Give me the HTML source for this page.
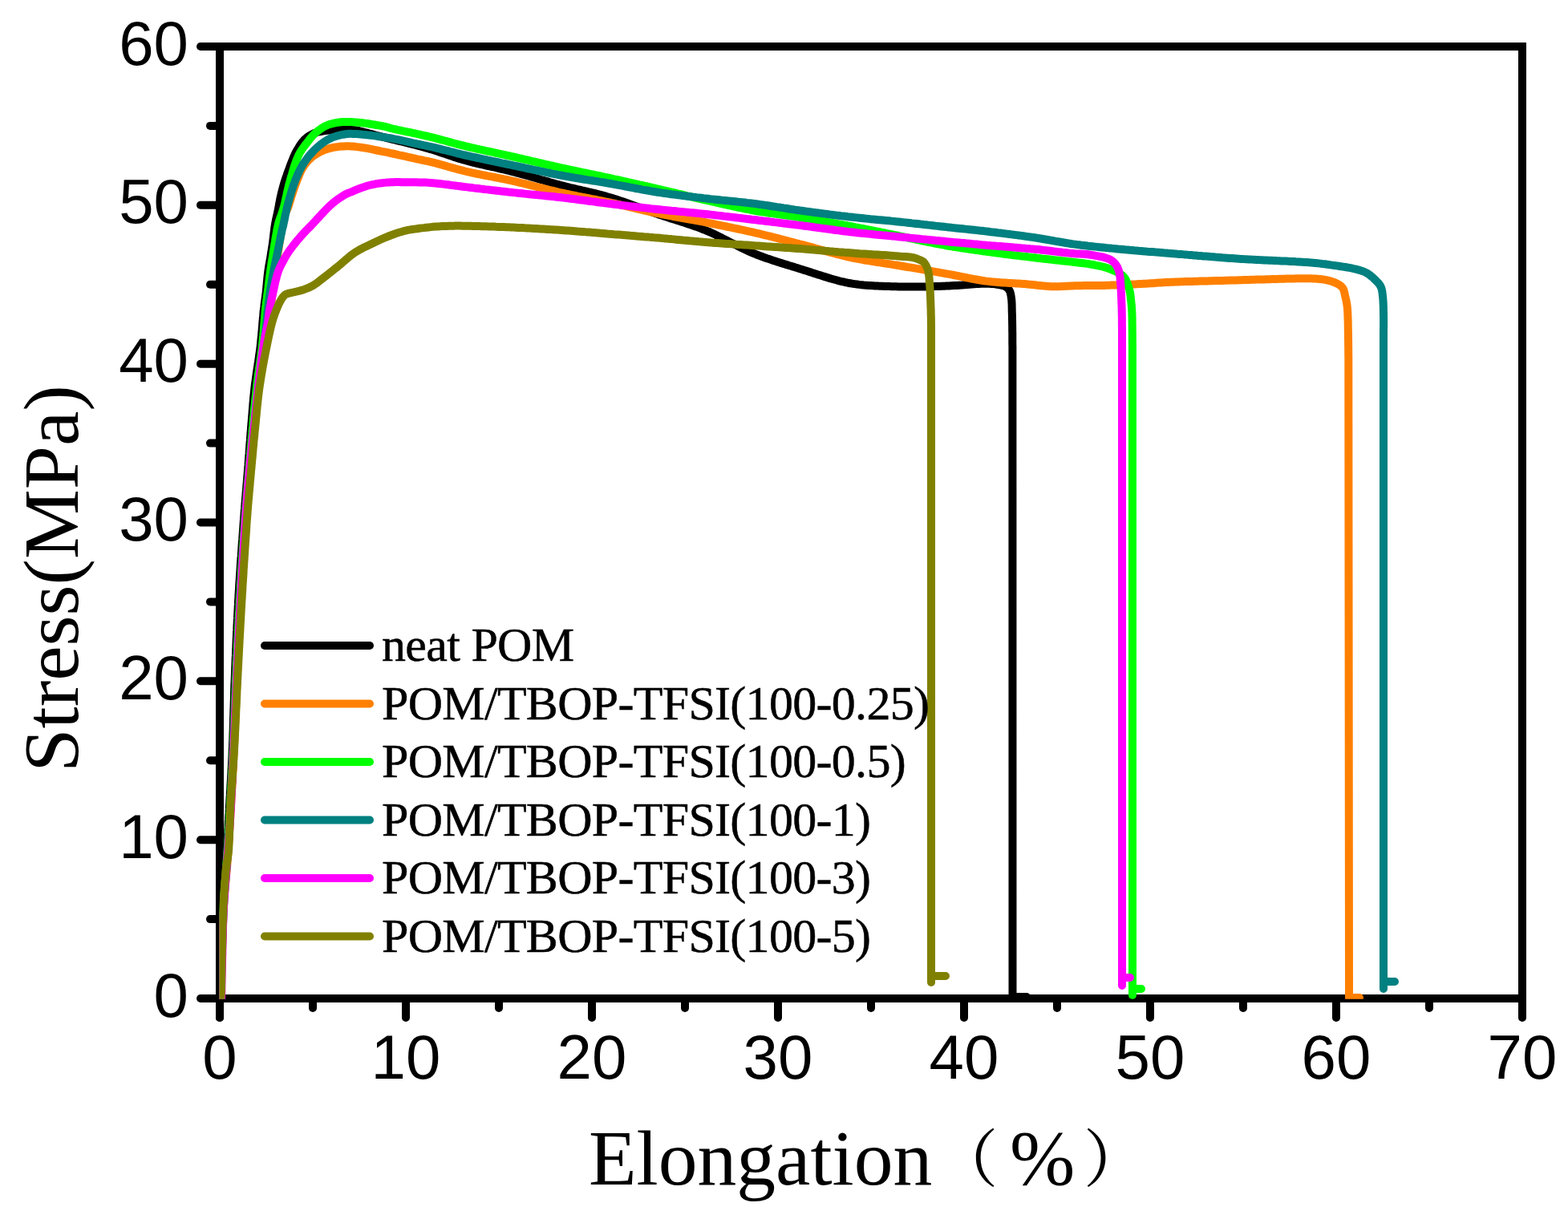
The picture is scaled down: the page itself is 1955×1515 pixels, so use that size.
<!DOCTYPE html>
<html><head><meta charset="utf-8"><title>Stress vs Elongation</title>
<style>
html,body{margin:0;padding:0;background:#fff;}
body{width:1955px;height:1515px;overflow:hidden;}
svg{display:block;}
.tl{font-family:"Liberation Sans",Arial,sans-serif;font-size:78px;fill:#000;}
.at{font-family:"Liberation Serif","Times New Roman","Noto Serif CJK SC",serif;font-size:97.6px;fill:#000;}
.lg{font-family:"Liberation Serif","Times New Roman",serif;font-size:60px;fill:#000;letter-spacing:-0.7px;stroke:#000;stroke-width:0.5px;}
.at .cj{font-family:"Noto Serif CJK SC","Noto Serif CJK JP",serif;font-size:78px;font-weight:500;}
</style></head>
<body>
<svg width="1955" height="1515" viewBox="0 0 1955 1515">
<rect width="1955" height="1515" fill="#fff"/>
<g stroke="#000" stroke-width="10" stroke-linecap="round" fill="none">
<line x1="274.0" y1="1245" x2="274.0" y2="1269"/>
<line x1="390.0" y1="1245" x2="390.0" y2="1257"/>
<line x1="506.0" y1="1245" x2="506.0" y2="1269"/>
<line x1="622.0" y1="1245" x2="622.0" y2="1257"/>
<line x1="738.0" y1="1245" x2="738.0" y2="1269"/>
<line x1="854.0" y1="1245" x2="854.0" y2="1257"/>
<line x1="970.0" y1="1245" x2="970.0" y2="1269"/>
<line x1="1086.0" y1="1245" x2="1086.0" y2="1257"/>
<line x1="1202.0" y1="1245" x2="1202.0" y2="1269"/>
<line x1="1318.0" y1="1245" x2="1318.0" y2="1257"/>
<line x1="1434.0" y1="1245" x2="1434.0" y2="1269"/>
<line x1="1550.0" y1="1245" x2="1550.0" y2="1257"/>
<line x1="1666.0" y1="1245" x2="1666.0" y2="1269"/>
<line x1="1782.0" y1="1245" x2="1782.0" y2="1257"/>
<line x1="1898.0" y1="1245" x2="1898.0" y2="1269"/>
<line x1="274" y1="1245.0" x2="250" y2="1245.0"/>
<line x1="274" y1="1146.1" x2="262" y2="1146.1"/>
<line x1="274" y1="1047.2" x2="250" y2="1047.2"/>
<line x1="274" y1="948.3" x2="262" y2="948.3"/>
<line x1="274" y1="849.3" x2="250" y2="849.3"/>
<line x1="274" y1="750.4" x2="262" y2="750.4"/>
<line x1="274" y1="651.5" x2="250" y2="651.5"/>
<line x1="274" y1="552.6" x2="262" y2="552.6"/>
<line x1="274" y1="453.7" x2="250" y2="453.7"/>
<line x1="274" y1="354.8" x2="262" y2="354.8"/>
<line x1="274" y1="255.8" x2="250" y2="255.8"/>
<line x1="274" y1="156.9" x2="262" y2="156.9"/>
<line x1="274" y1="58.0" x2="250" y2="58.0"/>
</g>
<path d="M274 1245 L274 58 L1898 58 L1898 1245 Z" stroke="#000" stroke-width="10" fill="none" stroke-linejoin="miter"/>
<line x1="274" y1="1245" x2="274" y2="1269" stroke="#000" stroke-width="10" stroke-linecap="round"/>
<clipPath id="pc"><rect x="273.5" y="58" width="1624.5" height="1187.8"/></clipPath>
<g clip-path="url(#pc)" fill="none" stroke-width="10" stroke-linejoin="round" stroke-linecap="round">
<path d="M275.0 1250.0 L275.1 1247.1 L275.1 1244.2 L275.2 1241.3 L275.2 1238.4 L275.3 1235.6 L275.3 1232.7 L275.4 1229.8 L275.4 1227.0 L275.5 1224.1 L275.5 1221.2 L275.6 1218.3 L275.7 1215.3 L275.7 1212.3 L275.8 1209.3 L275.9 1206.3 L275.9 1203.2 L276.0 1200.0 L276.1 1197.3 L276.1 1194.6 L276.2 1191.8 L276.3 1188.9 L276.3 1186.0 L276.4 1183.1 L276.4 1180.2 L276.5 1177.2 L276.6 1174.2 L276.6 1171.2 L276.7 1168.2 L276.8 1165.2 L276.9 1162.2 L276.9 1159.2 L277.0 1156.1 L277.1 1153.1 L277.2 1150.1 L277.3 1147.2 L277.4 1144.2 L277.5 1141.3 L277.6 1138.4 L277.7 1135.6 L277.9 1132.8 L278.0 1130.0 L278.2 1126.9 L278.3 1123.9 L278.5 1120.9 L278.7 1118.0 L278.9 1115.0 L279.1 1112.1 L279.4 1109.2 L279.6 1106.3 L279.8 1103.4 L280.0 1100.6 L280.3 1097.7 L280.5 1094.9 L280.7 1092.1 L281.0 1089.2 L281.2 1086.4 L281.4 1083.6 L281.6 1080.7 L281.8 1077.9 L282.0 1075.0 L282.2 1072.0 L282.4 1069.1 L282.5 1066.2 L282.7 1063.4 L282.9 1060.5 L283.0 1057.7 L283.2 1054.9 L283.4 1052.0 L283.5 1049.2 L283.7 1046.3 L283.8 1043.4 L284.0 1040.5 L284.2 1037.5 L284.3 1034.5 L284.5 1031.5 L284.6 1028.4 L284.8 1025.2 L285.0 1022.0 L285.1 1019.4 L285.3 1016.7 L285.5 1014.0 L285.6 1011.3 L285.8 1008.5 L285.9 1005.8 L286.1 1003.0 L286.3 1000.1 L286.4 997.3 L286.6 994.4 L286.8 991.5 L286.9 988.6 L287.1 985.6 L287.3 982.7 L287.4 979.7 L287.6 976.7 L287.8 973.7 L288.0 970.7 L288.1 967.6 L288.3 964.6 L288.4 961.5 L288.6 958.5 L288.8 955.4 L288.9 952.3 L289.1 949.3 L289.2 946.2 L289.4 943.1 L289.5 940.0 L289.6 937.2 L289.7 934.5 L289.9 931.7 L290.0 928.8 L290.1 926.0 L290.2 923.2 L290.3 920.3 L290.4 917.4 L290.5 914.5 L290.6 911.6 L290.7 908.7 L290.8 905.8 L290.9 902.9 L291.0 899.9 L291.0 897.0 L291.1 894.0 L291.2 891.1 L291.3 888.1 L291.4 885.2 L291.5 882.2 L291.6 879.2 L291.7 876.3 L291.8 873.3 L291.9 870.3 L292.0 867.4 L292.0 864.4 L292.1 861.4 L292.2 858.5 L292.3 855.5 L292.4 852.6 L292.6 849.7 L292.7 846.7 L292.8 843.8 L292.9 840.9 L293.0 838.0 L293.1 835.1 L293.2 832.1 L293.4 829.2 L293.5 826.3 L293.6 823.4 L293.7 820.4 L293.9 817.5 L294.0 814.6 L294.1 811.7 L294.2 808.8 L294.4 805.9 L294.5 802.9 L294.6 800.0 L294.7 797.1 L294.9 794.2 L295.0 791.3 L295.1 788.4 L295.3 785.5 L295.4 782.6 L295.5 779.7 L295.7 776.8 L295.8 773.9 L296.0 771.0 L296.1 768.1 L296.3 765.2 L296.4 762.3 L296.6 759.4 L296.7 756.4 L296.9 753.5 L297.0 750.6 L297.2 747.7 L297.4 744.8 L297.5 741.9 L297.7 739.0 L297.9 736.1 L298.1 733.1 L298.2 730.2 L298.4 727.2 L298.6 724.2 L298.8 721.1 L299.0 718.1 L299.2 715.1 L299.4 712.0 L299.6 709.0 L299.8 705.9 L300.0 702.9 L300.2 699.8 L300.4 696.7 L300.7 693.7 L300.9 690.7 L301.1 687.6 L301.3 684.6 L301.5 681.6 L301.7 678.6 L301.9 675.7 L302.2 672.7 L302.4 669.8 L302.6 666.9 L302.8 664.1 L303.0 661.2 L303.2 658.4 L303.4 655.7 L303.6 653.0 L303.8 650.3 L304.0 647.6 L304.2 645.0 L304.4 642.5 L304.6 640.0 L304.8 636.8 L305.1 633.6 L305.3 630.6 L305.6 627.5 L305.8 624.6 L306.0 621.7 L306.3 618.9 L306.5 616.1 L306.7 613.3 L307.0 610.6 L307.2 607.8 L307.4 605.1 L307.7 602.4 L307.9 599.7 L308.1 597.0 L308.3 594.3 L308.6 591.6 L308.8 588.8 L309.0 586.0 L309.2 583.1 L309.5 580.2 L309.7 577.3 L309.9 574.4 L310.1 571.5 L310.3 568.6 L310.6 565.7 L310.8 562.8 L311.0 559.9 L311.2 557.0 L311.4 554.1 L311.6 551.3 L311.9 548.4 L312.1 545.5 L312.3 542.6 L312.5 539.7 L312.8 536.9 L313.0 534.0 L313.2 531.2 L313.5 528.3 L313.7 525.5 L313.9 522.6 L314.1 519.8 L314.4 517.0 L314.6 514.1 L314.8 511.3 L315.1 508.5 L315.3 505.6 L315.5 502.8 L315.8 500.0 L316.0 497.2 L316.3 494.3 L316.6 491.5 L316.9 488.7 L317.2 485.8 L317.5 483.0 L317.8 480.1 L318.2 477.3 L318.6 474.4 L319.0 471.5 L319.4 468.6 L319.8 465.7 L320.2 462.8 L320.7 460.0 L321.1 457.1 L321.5 454.2 L322.0 451.3 L322.4 448.4 L322.8 445.6 L323.2 442.7 L323.6 439.9 L324.0 437.1 L324.4 434.3 L324.7 431.5 L325.0 428.6 L325.3 425.6 L325.6 422.6 L325.9 419.6 L326.2 416.6 L326.5 413.6 L326.7 410.6 L327.0 407.6 L327.2 404.7 L327.4 401.8 L327.7 399.0 L327.9 396.2 L328.2 393.5 L328.4 390.9 L328.6 388.4 L328.9 386.0 L329.3 382.8 L329.6 379.7 L330.0 376.8 L330.4 374.0 L330.8 371.3 L331.1 368.6 L331.5 365.8 L331.8 363.0 L332.1 360.3 L332.3 357.6 L332.6 354.9 L332.8 352.2 L333.1 349.5 L333.3 346.8 L333.6 344.1 L333.9 341.5 L334.2 339.0 L334.6 336.3 L335.0 333.7 L335.4 331.1 L335.9 328.6 L336.3 326.1 L336.8 323.5 L337.2 321.0 L337.6 318.5 L338.0 315.9 L338.4 313.4 L338.8 310.9 L339.2 308.3 L339.6 305.7 L340.0 303.0 L340.3 300.5 L340.7 297.8 L341.0 295.1 L341.3 292.3 L341.6 289.6 L342.0 286.8 L342.3 284.1 L342.7 281.5 L343.1 279.0 L343.7 276.0 L344.2 273.1 L344.9 270.3 L345.5 267.6 L346.1 264.8 L346.7 262.0 L347.2 259.5 L347.7 256.9 L348.1 254.3 L348.6 251.7 L349.1 249.1 L349.6 246.6 L350.2 244.0 L350.8 241.4 L351.4 238.8 L352.1 236.2 L352.8 233.7 L353.5 231.1 L354.2 228.5 L355.0 226.0 L355.8 223.5 L356.6 221.1 L357.5 218.6 L358.3 216.2 L359.2 213.8 L360.1 211.4 L361.0 209.0 L362.0 206.2 L363.1 203.4 L364.2 200.6 L365.3 197.9 L366.3 195.4 L367.4 193.0 L368.5 190.6 L369.7 188.5 L370.8 186.5 L372.0 184.5 L373.2 182.5 L374.4 180.6 L375.7 178.7 L377.0 177.0 L378.6 175.2 L380.2 173.5 L382.0 172.0 L383.9 170.5 L385.9 169.2 L388.0 168.0 L390.2 166.9 L392.4 165.9 L395.0 165.0 L397.2 164.4 L399.6 164.0 L402.1 163.5 L404.8 163.1 L407.4 162.8 L410.0 162.5 L412.5 162.2 L415.0 162.0 L417.5 161.8 L420.0 161.7 L422.5 161.6 L425.0 161.5 L427.5 161.4 L430.0 161.4 L432.5 161.4 L435.0 161.4 L437.5 161.6 L440.0 161.8 L442.5 162.2 L445.0 162.6 L447.5 163.2 L450.0 163.8 L452.5 164.4 L455.0 165.0 L457.5 165.6 L459.9 166.3 L462.4 166.9 L464.9 167.6 L467.4 168.3 L470.0 169.0 L472.6 169.7 L475.3 170.3 L477.9 171.0 L480.7 171.7 L483.5 172.4 L486.5 173.1 L489.5 173.9 L492.0 174.5 L494.7 175.2 L497.5 175.8 L500.4 176.5 L503.3 177.2 L506.2 177.9 L509.1 178.6 L512.0 179.4 L514.8 180.0 L517.4 180.7 L520.0 181.4 L523.0 182.2 L525.8 183.0 L528.5 183.7 L531.2 184.5 L533.9 185.3 L536.8 186.1 L540.0 187.1 L542.3 187.8 L544.6 188.5 L547.0 189.3 L549.5 190.2 L552.0 191.0 L554.6 191.9 L557.3 192.8 L560.0 193.7 L562.7 194.6 L565.5 195.6 L568.4 196.5 L571.2 197.4 L574.1 198.3 L577.1 199.2 L580.0 200.0 L582.6 200.7 L585.2 201.4 L587.9 202.1 L590.6 202.8 L593.4 203.5 L596.2 204.1 L599.1 204.8 L601.9 205.4 L604.8 206.1 L607.8 206.8 L610.7 207.4 L613.6 208.1 L616.6 208.7 L619.6 209.4 L622.5 210.1 L625.5 210.8 L628.4 211.4 L631.3 212.1 L634.2 212.8 L637.1 213.6 L640.0 214.3 L642.9 215.1 L645.7 215.8 L648.6 216.6 L651.4 217.4 L654.3 218.2 L657.2 219.0 L660.0 219.8 L662.9 220.6 L665.7 221.5 L668.6 222.3 L671.4 223.1 L674.3 224.0 L677.1 224.8 L680.0 225.6 L682.8 226.4 L685.7 227.3 L688.6 228.1 L691.4 228.9 L694.3 229.7 L697.1 230.4 L700.0 231.2 L702.9 231.9 L705.7 232.7 L708.6 233.4 L711.4 234.1 L714.3 234.7 L717.1 235.4 L720.0 236.1 L722.9 236.7 L725.7 237.4 L728.6 238.0 L731.5 238.7 L734.3 239.4 L737.2 240.0 L740.1 240.7 L742.9 241.4 L745.8 242.1 L748.6 242.8 L751.5 243.6 L754.3 244.4 L757.2 245.2 L760.0 246.0 L762.7 246.8 L765.5 247.7 L768.2 248.6 L771.0 249.5 L773.7 250.4 L776.4 251.3 L779.2 252.3 L781.9 253.2 L784.6 254.2 L787.3 255.2 L790.0 256.2 L792.8 257.2 L795.5 258.2 L798.2 259.2 L800.9 260.2 L803.7 261.2 L806.4 262.2 L809.1 263.1 L811.8 264.1 L814.5 265.1 L817.3 266.1 L820.0 267.0 L822.7 267.9 L825.5 268.8 L828.2 269.7 L830.9 270.6 L833.7 271.5 L836.4 272.4 L839.1 273.2 L841.9 274.1 L844.6 275.0 L847.3 275.8 L850.1 276.7 L852.8 277.6 L855.6 278.5 L858.3 279.4 L861.0 280.3 L863.7 281.2 L866.5 282.2 L869.2 283.1 L871.9 284.1 L874.6 285.2 L877.3 286.2 L880.0 287.3 L882.6 288.4 L885.3 289.5 L887.9 290.7 L890.5 291.9 L893.1 293.2 L895.7 294.5 L898.3 295.7 L900.9 297.1 L903.5 298.4 L906.1 299.7 L908.7 301.1 L911.3 302.4 L913.9 303.7 L916.5 305.1 L919.1 306.4 L921.7 307.7 L924.3 309.0 L926.9 310.3 L929.5 311.5 L932.1 312.7 L934.7 313.9 L937.4 315.0 L940.0 316.1 L942.7 317.2 L945.4 318.2 L948.1 319.2 L950.8 320.2 L953.5 321.2 L956.2 322.2 L959.0 323.1 L961.7 324.0 L964.4 324.9 L967.1 325.8 L969.9 326.7 L972.6 327.6 L975.4 328.4 L978.1 329.3 L980.8 330.1 L983.6 331.0 L986.3 331.8 L989.0 332.6 L991.8 333.5 L994.5 334.3 L997.3 335.2 L1000.0 336.0 L1002.8 336.9 L1005.7 337.8 L1008.5 338.7 L1011.4 339.6 L1014.2 340.6 L1017.1 341.5 L1019.9 342.4 L1022.8 343.3 L1025.6 344.2 L1028.5 345.1 L1031.3 346.0 L1034.2 346.9 L1037.0 347.7 L1039.9 348.5 L1042.8 349.3 L1045.6 350.1 L1048.5 350.8 L1051.4 351.4 L1054.2 352.1 L1057.1 352.7 L1060.0 353.2 L1062.8 353.7 L1065.7 354.1 L1068.5 354.5 L1071.4 354.9 L1074.2 355.2 L1077.1 355.5 L1079.9 355.7 L1082.8 355.9 L1085.6 356.1 L1088.5 356.3 L1091.4 356.5 L1094.2 356.6 L1097.1 356.7 L1100.0 356.8 L1102.8 356.9 L1105.7 357.0 L1108.6 357.1 L1111.4 357.2 L1114.3 357.2 L1117.1 357.3 L1120.0 357.4 L1122.9 357.5 L1125.7 357.5 L1128.6 357.6 L1131.5 357.6 L1134.4 357.6 L1137.3 357.6 L1140.2 357.6 L1143.1 357.6 L1146.0 357.5 L1148.9 357.5 L1151.8 357.4 L1154.7 357.4 L1157.5 357.3 L1160.4 357.2 L1163.3 357.2 L1166.1 357.1 L1168.9 357.0 L1171.7 356.9 L1174.5 356.8 L1177.3 356.7 L1180.0 356.6 L1183.1 356.5 L1186.3 356.3 L1189.5 356.1 L1192.7 355.9 L1195.9 355.7 L1199.2 355.5 L1202.4 355.2 L1205.5 355.0 L1208.7 354.7 L1211.7 354.5 L1214.7 354.3 L1217.6 354.1 L1220.3 354.0 L1223.0 353.8 L1225.5 353.7 L1227.8 353.7 L1230.0 353.7 L1233.1 353.8 L1235.8 353.9 L1238.4 354.1 L1240.7 354.4 L1242.9 354.7 L1245.0 355.0 L1247.9 355.5 L1250.6 356.1 L1253.0 357.0 L1255.1 358.3 L1257.0 360.0 L1258.5 362.0 L1259.5 364.1 L1260.1 366.5 L1260.6 369.2 L1261.0 372.0 L1261.3 374.3 L1261.4 376.7 L1261.6 379.3 L1261.6 381.9 L1261.7 384.6 L1261.7 387.3 L1261.8 390.0 L1261.9 392.8 L1262.0 395.5 L1262.0 398.3 L1262.1 401.1 L1262.1 404.0 L1262.2 406.9 L1262.2 410.0 L1262.2 412.5 L1262.3 415.1 L1262.3 417.7 L1262.3 420.5 L1262.3 423.2 L1262.3 426.0 L1262.3 428.8 L1262.4 431.7 L1262.4 434.5 L1262.4 437.2 L1262.4 440.0 L1262.5 1246.0 L1262.5 1243.0 L1280.0 1243.0" stroke="#000000"/>
<path d="M275.0 1250.0 L275.1 1247.1 L275.2 1244.2 L275.3 1241.3 L275.3 1238.4 L275.4 1235.6 L275.5 1232.7 L275.6 1229.8 L275.7 1227.0 L275.8 1224.1 L275.8 1221.2 L275.9 1218.3 L276.0 1215.3 L276.1 1212.3 L276.2 1209.3 L276.3 1206.3 L276.4 1203.2 L276.5 1200.0 L276.6 1197.3 L276.7 1194.6 L276.8 1191.8 L276.8 1188.9 L276.9 1186.0 L277.0 1183.1 L277.1 1180.2 L277.2 1177.2 L277.3 1174.2 L277.3 1171.2 L277.4 1168.2 L277.5 1165.2 L277.6 1162.2 L277.7 1159.2 L277.8 1156.1 L277.9 1153.1 L278.0 1150.1 L278.2 1147.2 L278.3 1144.2 L278.4 1141.3 L278.6 1138.4 L278.7 1135.6 L278.8 1132.8 L279.0 1130.0 L279.2 1126.9 L279.4 1123.9 L279.6 1120.9 L279.8 1118.0 L280.1 1115.0 L280.3 1112.1 L280.5 1109.2 L280.8 1106.3 L281.0 1103.4 L281.3 1100.6 L281.6 1097.7 L281.8 1094.9 L282.1 1092.1 L282.3 1089.2 L282.6 1086.4 L282.8 1083.6 L283.1 1080.7 L283.3 1077.9 L283.5 1075.0 L283.7 1072.0 L283.9 1069.1 L284.1 1066.2 L284.3 1063.4 L284.5 1060.5 L284.7 1057.7 L284.9 1054.9 L285.1 1052.0 L285.3 1049.2 L285.5 1046.3 L285.7 1043.4 L285.9 1040.5 L286.0 1037.5 L286.2 1034.5 L286.4 1031.5 L286.6 1028.4 L286.8 1025.2 L287.0 1022.0 L287.2 1019.4 L287.3 1016.7 L287.5 1014.0 L287.6 1011.3 L287.8 1008.5 L288.0 1005.8 L288.1 1003.0 L288.3 1000.1 L288.4 997.3 L288.6 994.4 L288.8 991.5 L288.9 988.6 L289.1 985.6 L289.3 982.7 L289.4 979.7 L289.6 976.7 L289.8 973.7 L289.9 970.7 L290.1 967.6 L290.2 964.6 L290.4 961.5 L290.6 958.5 L290.7 955.4 L290.9 952.3 L291.0 949.3 L291.2 946.2 L291.3 943.1 L291.5 940.0 L291.6 937.2 L291.8 934.5 L291.9 931.7 L292.0 928.8 L292.2 926.0 L292.3 923.2 L292.4 920.3 L292.6 917.4 L292.7 914.5 L292.8 911.6 L293.0 908.7 L293.1 905.8 L293.2 902.9 L293.3 899.9 L293.5 897.0 L293.6 894.0 L293.7 891.1 L293.8 888.1 L294.0 885.2 L294.1 882.2 L294.2 879.2 L294.3 876.3 L294.5 873.3 L294.6 870.3 L294.7 867.4 L294.9 864.4 L295.0 861.4 L295.1 858.5 L295.2 855.5 L295.4 852.6 L295.5 849.7 L295.6 846.7 L295.7 843.8 L295.9 840.9 L296.0 838.0 L296.1 835.1 L296.3 832.1 L296.4 829.2 L296.5 826.3 L296.6 823.4 L296.8 820.4 L296.9 817.5 L297.0 814.6 L297.1 811.7 L297.3 808.8 L297.4 805.9 L297.5 802.9 L297.6 800.0 L297.7 797.1 L297.9 794.2 L298.0 791.3 L298.1 788.4 L298.2 785.5 L298.4 782.6 L298.5 779.7 L298.6 776.8 L298.8 773.9 L298.9 771.0 L299.0 768.1 L299.2 765.2 L299.3 762.3 L299.4 759.4 L299.6 756.4 L299.7 753.5 L299.9 750.6 L300.0 747.7 L300.2 744.8 L300.3 741.9 L300.5 739.0 L300.7 736.1 L300.8 733.1 L301.0 730.2 L301.2 727.2 L301.3 724.2 L301.5 721.1 L301.7 718.1 L301.9 715.1 L302.1 712.0 L302.3 709.0 L302.4 705.9 L302.6 702.9 L302.8 699.8 L303.0 696.7 L303.2 693.7 L303.4 690.7 L303.6 687.6 L303.8 684.6 L304.0 681.6 L304.2 678.6 L304.4 675.7 L304.6 672.7 L304.8 669.8 L305.0 666.9 L305.2 664.1 L305.4 661.2 L305.6 658.4 L305.8 655.7 L306.0 653.0 L306.2 650.3 L306.4 647.6 L306.6 645.0 L306.8 642.5 L307.0 640.0 L307.3 636.8 L307.5 633.6 L307.8 630.5 L308.0 627.5 L308.3 624.6 L308.6 621.7 L308.8 618.9 L309.1 616.1 L309.4 613.3 L309.6 610.5 L309.9 607.8 L310.2 605.1 L310.4 602.4 L310.7 599.7 L311.0 597.0 L311.2 594.3 L311.5 591.6 L311.7 588.8 L312.0 586.0 L312.3 583.1 L312.5 580.2 L312.8 577.3 L313.0 574.4 L313.2 571.5 L313.5 568.6 L313.7 565.7 L314.0 562.8 L314.2 559.9 L314.4 557.0 L314.7 554.1 L314.9 551.3 L315.2 548.4 L315.4 545.5 L315.7 542.6 L316.0 539.7 L316.2 536.9 L316.5 534.0 L316.8 531.2 L317.1 528.3 L317.3 525.5 L317.6 522.6 L317.9 519.8 L318.2 517.0 L318.5 514.1 L318.7 511.3 L319.0 508.5 L319.3 505.6 L319.6 502.8 L319.9 500.0 L320.3 497.2 L320.6 494.3 L320.9 491.5 L321.3 488.7 L321.6 485.8 L322.0 483.0 L322.4 480.1 L322.8 477.3 L323.2 474.4 L323.6 471.5 L324.1 468.5 L324.5 465.6 L325.0 462.7 L325.4 459.8 L325.9 456.9 L326.4 454.0 L326.8 451.1 L327.3 448.3 L327.8 445.4 L328.2 442.6 L328.7 439.8 L329.1 437.0 L329.6 434.2 L330.0 431.5 L330.5 428.6 L330.9 425.7 L331.4 422.8 L331.8 419.9 L332.3 417.1 L332.7 414.3 L333.2 411.4 L333.6 408.7 L334.1 405.9 L334.5 403.2 L334.9 400.5 L335.3 397.8 L335.7 395.2 L336.1 392.6 L336.5 390.0 L336.9 387.1 L337.3 384.3 L337.7 381.5 L338.1 378.7 L338.4 376.0 L338.8 373.4 L339.1 370.7 L339.4 368.1 L339.8 365.4 L340.1 362.7 L340.5 360.0 L340.9 357.3 L341.2 354.5 L341.6 351.8 L341.9 349.1 L342.3 346.4 L342.6 343.6 L343.0 340.9 L343.4 338.2 L343.7 335.5 L344.1 332.7 L344.5 330.0 L344.9 327.3 L345.3 324.6 L345.7 321.8 L346.0 319.1 L346.4 316.4 L346.8 313.7 L347.3 311.0 L347.7 308.3 L348.1 305.5 L348.5 302.8 L349.0 300.0 L349.4 297.3 L349.9 294.4 L350.4 291.4 L350.8 288.4 L351.3 285.4 L351.8 282.4 L352.3 279.4 L352.8 276.6 L353.4 274.0 L353.9 271.6 L354.4 269.4 L355.0 267.5 L356.2 264.7 L357.4 262.5 L358.6 260.0 L359.5 257.6 L360.4 254.9 L361.3 251.9 L362.2 248.9 L363.1 245.9 L364.0 243.0 L364.8 240.6 L365.6 238.1 L366.5 235.7 L367.3 233.2 L368.2 230.8 L369.1 228.4 L370.0 226.0 L371.1 223.2 L372.2 220.5 L373.3 217.7 L374.5 215.0 L375.7 212.4 L377.0 210.0 L378.5 207.7 L380.0 205.4 L381.6 203.4 L383.2 201.4 L385.0 199.5 L386.8 197.8 L388.6 196.2 L390.5 194.7 L392.5 193.3 L394.5 192.0 L396.7 190.7 L398.9 189.5 L401.3 188.4 L403.6 187.4 L406.0 186.5 L408.3 185.7 L410.7 185.0 L413.1 184.5 L415.5 183.9 L418.0 183.5 L420.6 183.1 L423.3 182.8 L425.9 182.6 L428.5 182.4 L431.0 182.3 L433.3 182.3 L435.5 182.3 L437.6 182.4 L440.0 182.6 L442.3 182.8 L444.7 183.1 L447.3 183.4 L449.9 183.7 L452.5 184.1 L455.0 184.5 L457.5 184.9 L459.9 185.4 L462.4 185.9 L464.9 186.4 L467.4 187.0 L470.0 187.5 L472.6 188.0 L475.3 188.6 L478.0 189.1 L480.7 189.7 L483.5 190.2 L486.5 190.9 L489.5 191.5 L492.0 192.0 L494.7 192.6 L497.5 193.3 L500.4 193.9 L503.3 194.5 L506.2 195.2 L509.1 195.9 L512.0 196.5 L514.8 197.1 L517.4 197.7 L520.0 198.3 L523.0 198.9 L525.8 199.5 L528.5 200.1 L531.2 200.6 L533.9 201.2 L536.8 201.8 L540.0 202.6 L542.4 203.2 L544.9 203.9 L547.5 204.6 L550.2 205.3 L552.9 206.1 L555.8 206.9 L558.6 207.7 L561.6 208.6 L564.5 209.4 L567.6 210.3 L570.6 211.1 L573.7 211.9 L576.9 212.7 L580.0 213.5 L582.6 214.1 L585.2 214.7 L587.9 215.3 L590.7 215.9 L593.4 216.5 L596.2 217.0 L599.1 217.6 L602.0 218.2 L604.9 218.7 L607.8 219.3 L610.7 219.9 L613.6 220.4 L616.6 221.0 L619.6 221.6 L622.5 222.2 L625.5 222.7 L628.4 223.3 L631.3 223.9 L634.2 224.5 L637.1 225.2 L640.0 225.8 L642.9 226.4 L645.7 227.1 L648.6 227.8 L651.4 228.5 L654.3 229.2 L657.2 229.9 L660.0 230.6 L662.9 231.3 L665.7 232.0 L668.6 232.8 L671.4 233.5 L674.3 234.2 L677.1 234.9 L680.0 235.6 L682.8 236.3 L685.7 237.0 L688.6 237.7 L691.4 238.4 L694.3 239.1 L697.1 239.8 L700.0 240.4 L702.9 241.0 L705.7 241.6 L708.6 242.2 L711.4 242.8 L714.3 243.4 L717.1 244.0 L720.0 244.6 L722.8 245.1 L725.7 245.7 L728.6 246.2 L731.4 246.8 L734.3 247.3 L737.1 247.9 L740.0 248.4 L742.9 249.0 L745.7 249.6 L748.6 250.1 L751.4 250.7 L754.3 251.3 L757.1 251.9 L760.0 252.5 L762.9 253.1 L765.7 253.7 L768.6 254.4 L771.4 255.0 L774.3 255.7 L777.1 256.3 L780.0 257.0 L782.9 257.7 L785.7 258.3 L788.6 259.0 L791.4 259.7 L794.3 260.4 L797.1 261.0 L800.0 261.7 L802.8 262.3 L805.7 263.0 L808.6 263.6 L811.4 264.3 L814.3 264.9 L817.1 265.5 L820.0 266.1 L822.9 266.7 L825.7 267.3 L828.6 267.8 L831.4 268.4 L834.3 268.9 L837.1 269.4 L840.0 270.0 L842.8 270.5 L845.7 271.0 L848.6 271.5 L851.4 272.0 L854.3 272.5 L857.1 273.0 L860.0 273.6 L862.9 274.1 L865.7 274.6 L868.6 275.1 L871.4 275.6 L874.3 276.2 L877.1 276.7 L880.0 277.3 L882.9 277.9 L885.7 278.4 L888.6 279.0 L891.4 279.6 L894.3 280.2 L897.2 280.7 L900.0 281.3 L902.9 281.9 L905.7 282.5 L908.6 283.1 L911.5 283.7 L914.3 284.3 L917.2 284.9 L920.0 285.5 L922.9 286.1 L925.7 286.7 L928.6 287.3 L931.4 288.0 L934.3 288.6 L937.1 289.2 L940.0 289.9 L942.9 290.6 L945.7 291.2 L948.6 291.9 L951.4 292.6 L954.3 293.3 L957.2 294.0 L960.0 294.7 L962.9 295.4 L965.7 296.2 L968.6 296.9 L971.5 297.6 L974.3 298.3 L977.2 299.1 L980.0 299.8 L982.9 300.6 L985.7 301.3 L988.6 302.0 L991.4 302.8 L994.3 303.5 L997.1 304.3 L1000.0 305.0 L1002.9 305.7 L1005.7 306.5 L1008.6 307.3 L1011.4 308.1 L1014.3 308.9 L1017.1 309.7 L1020.0 310.5 L1022.8 311.3 L1025.7 312.1 L1028.5 312.9 L1031.4 313.7 L1034.2 314.4 L1037.1 315.2 L1040.0 316.0 L1042.8 316.8 L1045.7 317.5 L1048.5 318.2 L1051.4 318.9 L1054.3 319.6 L1057.1 320.3 L1060.0 320.9 L1062.8 321.5 L1065.7 322.1 L1068.5 322.6 L1071.4 323.2 L1074.2 323.7 L1077.1 324.2 L1080.0 324.7 L1082.8 325.1 L1085.7 325.6 L1088.5 326.1 L1091.4 326.5 L1094.3 327.0 L1097.1 327.4 L1100.0 327.8 L1102.8 328.3 L1105.7 328.7 L1108.6 329.1 L1111.4 329.6 L1114.3 330.1 L1117.1 330.5 L1120.0 331.0 L1122.9 331.5 L1125.7 332.0 L1128.6 332.5 L1131.5 333.0 L1134.4 333.4 L1137.3 333.9 L1140.2 334.4 L1143.1 334.9 L1146.0 335.4 L1148.9 335.9 L1151.8 336.4 L1154.7 336.9 L1157.5 337.4 L1160.4 337.9 L1163.3 338.4 L1166.1 338.9 L1168.9 339.3 L1171.7 339.8 L1174.5 340.3 L1177.3 340.8 L1180.0 341.3 L1183.1 341.9 L1186.1 342.4 L1189.1 343.0 L1192.1 343.6 L1195.1 344.2 L1198.0 344.8 L1201.0 345.4 L1203.9 346.0 L1206.8 346.6 L1209.7 347.2 L1212.6 347.7 L1215.5 348.3 L1218.4 348.8 L1221.3 349.3 L1224.2 349.8 L1227.1 350.2 L1230.0 350.6 L1232.9 350.9 L1235.7 351.3 L1238.6 351.5 L1241.5 351.8 L1244.4 352.0 L1247.3 352.2 L1250.2 352.4 L1253.1 352.6 L1255.9 352.8 L1258.8 352.9 L1261.6 353.1 L1264.5 353.2 L1267.2 353.4 L1270.0 353.5 L1272.7 353.7 L1275.4 353.9 L1278.0 354.1 L1281.1 354.4 L1284.2 354.7 L1287.2 355.0 L1290.2 355.3 L1293.2 355.7 L1296.1 356.0 L1299.0 356.3 L1301.9 356.6 L1304.7 356.8 L1307.5 357.0 L1310.3 357.2 L1313.0 357.3 L1315.8 357.3 L1318.5 357.3 L1321.2 357.2 L1323.8 357.1 L1326.4 357.0 L1329.0 356.8 L1331.6 356.7 L1334.3 356.5 L1337.1 356.4 L1340.0 356.3 L1342.6 356.2 L1345.3 356.2 L1348.0 356.2 L1350.8 356.1 L1353.6 356.1 L1356.5 356.1 L1359.4 356.1 L1362.3 356.1 L1365.3 356.0 L1368.2 356.0 L1371.2 356.0 L1374.1 355.9 L1377.1 355.9 L1380.0 355.8 L1382.8 355.7 L1385.7 355.6 L1388.6 355.5 L1391.4 355.4 L1394.3 355.3 L1397.2 355.2 L1400.2 355.1 L1403.1 355.0 L1406.0 354.8 L1408.9 354.7 L1411.7 354.6 L1414.6 354.4 L1417.4 354.3 L1420.2 354.1 L1423.0 354.0 L1425.9 353.8 L1428.7 353.7 L1431.4 353.5 L1434.1 353.3 L1436.8 353.2 L1439.4 353.0 L1442.1 352.8 L1444.8 352.6 L1447.6 352.5 L1450.5 352.3 L1453.5 352.1 L1456.7 352.0 L1460.0 351.8 L1462.4 351.7 L1464.9 351.6 L1467.4 351.5 L1470.0 351.4 L1472.7 351.3 L1475.4 351.2 L1478.2 351.1 L1481.1 351.0 L1484.0 350.9 L1486.9 350.9 L1489.9 350.8 L1492.9 350.7 L1495.9 350.6 L1499.0 350.5 L1502.1 350.4 L1505.2 350.4 L1508.3 350.3 L1511.4 350.2 L1514.5 350.1 L1517.6 350.0 L1520.7 350.0 L1523.8 349.9 L1526.9 349.8 L1529.9 349.7 L1532.9 349.6 L1535.9 349.6 L1538.9 349.5 L1541.8 349.4 L1544.8 349.3 L1547.8 349.2 L1550.8 349.1 L1554.0 349.0 L1557.1 348.9 L1560.3 348.8 L1563.5 348.7 L1566.7 348.6 L1569.9 348.5 L1573.1 348.4 L1576.3 348.4 L1579.5 348.3 L1582.7 348.2 L1585.8 348.1 L1588.9 348.0 L1591.9 347.9 L1594.9 347.8 L1597.8 347.7 L1600.7 347.7 L1603.4 347.6 L1606.1 347.5 L1608.7 347.5 L1611.2 347.4 L1613.6 347.4 L1615.8 347.3 L1618.0 347.3 L1620.0 347.3 L1623.6 347.3 L1626.7 347.3 L1629.6 347.3 L1632.3 347.3 L1634.8 347.3 L1637.4 347.4 L1640.0 347.6 L1642.8 347.8 L1645.5 348.0 L1648.2 348.3 L1650.8 348.6 L1653.3 349.1 L1655.8 349.6 L1658.4 350.3 L1660.9 351.1 L1663.4 352.0 L1665.6 352.9 L1667.7 354.0 L1670.2 355.4 L1672.3 357.0 L1674.1 359.0 L1675.2 361.2 L1676.0 363.8 L1676.6 366.6 L1677.2 369.4 L1677.8 371.7 L1678.3 374.1 L1678.8 376.5 L1679.2 378.9 L1679.6 381.3 L1679.9 384.2 L1680.1 386.9 L1680.3 389.9 L1680.4 393.2 L1680.5 395.7 L1680.6 398.4 L1680.7 401.3 L1680.7 404.3 L1680.8 407.4 L1680.8 410.6 L1680.9 413.7 L1681.0 416.9 L1681.0 420.0 L1681.0 422.7 L1681.1 425.4 L1681.1 428.1 L1681.1 430.8 L1681.2 433.5 L1681.2 436.3 L1681.2 439.0 L1681.2 441.8 L1681.3 444.5 L1681.3 447.3 L1681.3 450.0 L1682.0 1244.0 L1695.0 1244.0" stroke="#FF8000"/>
<path d="M275.0 1250.0 L275.1 1247.1 L275.1 1244.2 L275.2 1241.3 L275.2 1238.4 L275.3 1235.5 L275.3 1232.7 L275.4 1229.8 L275.4 1227.0 L275.5 1224.1 L275.5 1221.2 L275.6 1218.3 L275.6 1215.3 L275.7 1212.3 L275.8 1209.3 L275.8 1206.3 L275.9 1203.2 L276.0 1200.0 L276.1 1197.3 L276.2 1194.6 L276.2 1191.8 L276.3 1188.9 L276.4 1186.0 L276.5 1183.1 L276.6 1180.2 L276.6 1177.2 L276.7 1174.2 L276.8 1171.2 L276.9 1168.2 L277.0 1165.2 L277.1 1162.2 L277.2 1159.2 L277.3 1156.1 L277.5 1153.1 L277.6 1150.1 L277.7 1147.2 L277.8 1144.2 L277.9 1141.3 L278.1 1138.4 L278.2 1135.6 L278.4 1132.8 L278.5 1130.0 L278.7 1126.9 L278.9 1123.9 L279.0 1120.9 L279.2 1118.0 L279.4 1115.0 L279.7 1112.1 L279.9 1109.2 L280.1 1106.3 L280.3 1103.4 L280.5 1100.6 L280.8 1097.7 L281.0 1094.9 L281.2 1092.1 L281.4 1089.2 L281.7 1086.4 L281.9 1083.6 L282.1 1080.7 L282.3 1077.9 L282.5 1075.0 L282.7 1072.0 L282.9 1069.1 L283.1 1066.2 L283.3 1063.4 L283.5 1060.5 L283.7 1057.7 L283.9 1054.9 L284.1 1052.0 L284.3 1049.2 L284.5 1046.3 L284.7 1043.4 L284.8 1040.5 L285.0 1037.5 L285.2 1034.5 L285.4 1031.5 L285.6 1028.4 L285.8 1025.2 L286.0 1022.0 L286.2 1019.4 L286.3 1016.7 L286.5 1014.0 L286.6 1011.3 L286.8 1008.5 L287.0 1005.8 L287.1 1003.0 L287.3 1000.1 L287.5 997.3 L287.6 994.4 L287.8 991.5 L288.0 988.6 L288.1 985.6 L288.3 982.7 L288.5 979.7 L288.6 976.7 L288.8 973.7 L288.9 970.7 L289.1 967.6 L289.3 964.6 L289.4 961.5 L289.6 958.5 L289.7 955.4 L289.9 952.3 L290.1 949.3 L290.2 946.2 L290.4 943.1 L290.5 940.0 L290.6 937.2 L290.8 934.5 L290.9 931.7 L291.0 928.8 L291.1 926.0 L291.2 923.2 L291.4 920.3 L291.5 917.4 L291.6 914.5 L291.7 911.6 L291.8 908.7 L291.9 905.8 L292.0 902.9 L292.1 899.9 L292.2 897.0 L292.3 894.0 L292.4 891.1 L292.6 888.1 L292.7 885.2 L292.8 882.2 L292.9 879.2 L293.0 876.3 L293.1 873.3 L293.2 870.3 L293.3 867.4 L293.4 864.4 L293.5 861.4 L293.6 858.5 L293.8 855.5 L293.9 852.6 L294.0 849.7 L294.1 846.7 L294.2 843.8 L294.4 840.9 L294.5 838.0 L294.6 835.1 L294.8 832.1 L294.9 829.2 L295.0 826.3 L295.2 823.4 L295.3 820.4 L295.4 817.5 L295.6 814.6 L295.7 811.7 L295.8 808.8 L296.0 805.9 L296.1 802.9 L296.3 800.0 L296.4 797.1 L296.6 794.2 L296.7 791.3 L296.8 788.4 L297.0 785.5 L297.1 782.6 L297.3 779.7 L297.4 776.8 L297.6 773.9 L297.7 771.0 L297.9 768.1 L298.0 765.2 L298.2 762.3 L298.4 759.4 L298.5 756.4 L298.7 753.5 L298.8 750.6 L299.0 747.7 L299.2 744.8 L299.3 741.9 L299.5 739.0 L299.7 736.1 L299.8 733.1 L300.0 730.2 L300.2 727.2 L300.4 724.2 L300.6 721.1 L300.7 718.1 L300.9 715.1 L301.1 712.0 L301.3 709.0 L301.5 705.9 L301.7 702.9 L301.9 699.8 L302.1 696.7 L302.3 693.7 L302.5 690.7 L302.7 687.6 L302.9 684.6 L303.1 681.6 L303.3 678.6 L303.5 675.7 L303.7 672.7 L303.9 669.8 L304.1 666.9 L304.3 664.1 L304.5 661.2 L304.7 658.4 L304.9 655.7 L305.1 653.0 L305.2 650.3 L305.4 647.6 L305.6 645.0 L305.8 642.5 L306.0 640.0 L306.2 636.8 L306.5 633.6 L306.7 630.6 L307.0 627.5 L307.2 624.6 L307.4 621.7 L307.7 618.9 L307.9 616.1 L308.1 613.3 L308.4 610.5 L308.6 607.8 L308.8 605.1 L309.1 602.4 L309.3 599.7 L309.6 597.0 L309.8 594.3 L310.0 591.6 L310.3 588.8 L310.5 586.0 L310.7 583.1 L311.0 580.2 L311.2 577.3 L311.5 574.4 L311.7 571.5 L312.0 568.6 L312.2 565.7 L312.5 562.8 L312.7 559.9 L313.0 557.0 L313.2 554.1 L313.5 551.3 L313.7 548.4 L314.0 545.5 L314.2 542.6 L314.5 539.7 L314.7 536.9 L315.0 534.0 L315.3 531.2 L315.5 528.3 L315.8 525.5 L316.0 522.6 L316.3 519.8 L316.6 517.0 L316.8 514.1 L317.1 511.3 L317.3 508.5 L317.6 505.7 L317.9 502.8 L318.2 500.0 L318.5 497.2 L318.8 494.3 L319.1 491.5 L319.4 488.7 L319.7 485.8 L320.0 483.0 L320.3 480.1 L320.7 477.2 L321.1 474.3 L321.5 471.4 L321.9 468.5 L322.3 465.6 L322.7 462.6 L323.1 459.7 L323.6 456.8 L324.0 453.9 L324.4 451.0 L324.8 448.1 L325.2 445.2 L325.6 442.3 L326.0 439.5 L326.3 436.6 L326.7 433.8 L327.0 431.0 L327.3 428.1 L327.6 425.1 L327.9 422.2 L328.2 419.2 L328.4 416.2 L328.7 413.3 L328.9 410.3 L329.1 407.4 L329.4 404.5 L329.6 401.7 L329.8 398.9 L330.0 396.2 L330.3 393.5 L330.5 390.9 L330.8 388.4 L331.0 386.0 L331.3 383.0 L331.7 380.1 L332.0 377.4 L332.3 374.8 L332.7 372.2 L333.0 369.7 L333.3 367.2 L333.7 364.6 L334.0 362.0 L334.4 359.1 L334.7 356.3 L335.1 353.5 L335.4 350.6 L335.8 347.8 L336.2 344.9 L336.6 342.0 L337.0 339.0 L337.4 336.2 L337.8 333.4 L338.2 330.6 L338.7 327.7 L339.1 324.8 L339.6 321.8 L340.1 318.9 L340.5 315.9 L341.0 312.9 L341.5 310.0 L342.0 307.2 L342.4 304.4 L342.9 301.5 L343.3 298.6 L343.8 295.7 L344.3 292.9 L344.8 290.0 L345.3 287.2 L345.8 284.5 L346.4 281.9 L347.0 279.4 L347.8 276.4 L348.7 273.7 L349.6 271.0 L350.6 268.5 L351.5 265.8 L352.5 263.0 L353.4 260.0 L354.1 257.5 L354.7 254.9 L355.4 252.2 L356.0 249.4 L356.6 246.5 L357.3 243.6 L357.9 240.6 L358.6 237.6 L359.3 234.7 L360.0 231.7 L360.7 228.8 L361.5 226.0 L362.3 223.2 L363.1 220.3 L364.0 217.4 L364.8 214.5 L365.7 211.5 L366.6 208.6 L367.5 205.8 L368.5 203.0 L369.4 200.3 L370.5 197.7 L371.5 195.3 L372.6 193.0 L374.1 190.2 L375.7 187.6 L377.3 185.2 L379.0 182.9 L380.6 180.7 L382.3 178.6 L383.9 176.5 L385.7 174.2 L387.4 172.0 L389.2 169.9 L391.0 167.9 L393.0 166.0 L395.0 164.3 L397.1 162.6 L399.4 161.0 L401.6 159.5 L403.9 158.1 L406.0 157.0 L408.3 155.9 L410.6 155.1 L412.8 154.5 L415.2 153.9 L417.5 153.4 L420.0 152.9 L422.5 152.5 L425.0 152.2 L427.5 152.0 L430.0 151.9 L432.5 151.9 L435.0 152.0 L437.5 152.1 L440.0 152.2 L442.4 152.4 L444.9 152.5 L447.3 152.8 L449.7 153.0 L452.1 153.3 L454.5 153.6 L456.9 153.9 L459.4 154.3 L461.8 154.7 L464.4 155.1 L466.9 155.5 L469.6 156.0 L472.3 156.4 L475.0 156.9 L477.6 157.4 L480.0 157.9 L482.4 158.5 L484.6 159.1 L486.8 159.8 L489.5 160.5 L491.6 161.0 L494.1 161.5 L496.7 162.1 L499.6 162.7 L502.6 163.3 L505.6 164.0 L508.7 164.6 L511.7 165.2 L514.6 165.8 L517.4 166.4 L520.0 167.0 L523.0 167.7 L525.8 168.3 L528.5 168.9 L531.2 169.5 L533.9 170.1 L536.8 170.8 L540.0 171.6 L542.4 172.2 L544.9 172.9 L547.5 173.6 L550.2 174.3 L552.9 175.0 L555.8 175.8 L558.6 176.6 L561.6 177.4 L564.5 178.2 L567.6 179.0 L570.6 179.8 L573.7 180.6 L576.9 181.4 L580.0 182.2 L582.6 182.8 L585.2 183.4 L587.9 184.1 L590.7 184.7 L593.4 185.3 L596.2 186.0 L599.1 186.6 L602.0 187.2 L604.9 187.8 L607.8 188.5 L610.7 189.1 L613.6 189.7 L616.6 190.4 L619.5 191.0 L622.5 191.7 L625.5 192.3 L628.4 192.9 L631.3 193.6 L634.2 194.2 L637.1 194.9 L640.0 195.5 L642.9 196.1 L645.7 196.8 L648.6 197.5 L651.4 198.1 L654.3 198.8 L657.1 199.4 L660.0 200.1 L662.9 200.8 L665.7 201.4 L668.6 202.1 L671.4 202.8 L674.3 203.4 L677.1 204.1 L680.0 204.8 L682.9 205.4 L685.7 206.1 L688.6 206.7 L691.4 207.4 L694.3 208.0 L697.1 208.7 L700.0 209.3 L702.9 209.9 L705.7 210.5 L708.6 211.2 L711.4 211.8 L714.3 212.4 L717.1 213.0 L720.0 213.6 L722.9 214.2 L725.7 214.8 L728.6 215.4 L731.4 216.0 L734.3 216.6 L737.1 217.2 L740.0 217.7 L742.9 218.3 L745.7 218.9 L748.6 219.5 L751.4 220.2 L754.3 220.8 L757.1 221.4 L760.0 222.0 L762.9 222.6 L765.7 223.3 L768.6 223.9 L771.4 224.5 L774.3 225.1 L777.2 225.8 L780.0 226.4 L782.9 227.1 L785.7 227.7 L788.6 228.3 L791.4 229.0 L794.3 229.6 L797.2 230.3 L800.0 230.9 L802.9 231.6 L805.7 232.2 L808.6 232.9 L811.4 233.5 L814.3 234.2 L817.1 234.8 L820.0 235.5 L822.9 236.2 L825.7 236.8 L828.6 237.5 L831.4 238.2 L834.3 238.8 L837.1 239.5 L840.0 240.2 L842.9 240.9 L845.7 241.6 L848.6 242.2 L851.4 242.9 L854.3 243.6 L857.1 244.3 L860.0 245.0 L862.8 245.6 L865.7 246.3 L868.6 247.0 L871.4 247.6 L874.3 248.3 L877.1 249.0 L880.0 249.6 L882.9 250.2 L885.7 250.9 L888.6 251.5 L891.4 252.2 L894.3 252.8 L897.1 253.5 L900.0 254.1 L902.8 254.8 L905.7 255.4 L908.5 256.0 L911.4 256.7 L914.3 257.3 L917.1 257.9 L920.0 258.5 L922.8 259.1 L925.7 259.7 L928.5 260.3 L931.4 260.9 L934.3 261.4 L937.1 262.0 L940.0 262.5 L942.8 263.0 L945.7 263.5 L948.6 264.0 L951.4 264.4 L954.3 264.9 L957.1 265.3 L960.0 265.7 L962.8 266.1 L965.7 266.5 L968.6 266.9 L971.4 267.3 L974.3 267.7 L977.1 268.1 L980.0 268.5 L982.9 268.9 L985.7 269.3 L988.6 269.7 L991.4 270.2 L994.3 270.6 L997.1 271.0 L1000.0 271.5 L1002.9 272.0 L1005.7 272.4 L1008.6 272.9 L1011.4 273.4 L1014.3 273.9 L1017.2 274.3 L1020.0 274.8 L1022.9 275.3 L1025.7 275.8 L1028.6 276.3 L1031.4 276.8 L1034.3 277.3 L1037.2 277.8 L1040.0 278.3 L1042.9 278.8 L1045.7 279.4 L1048.6 279.9 L1051.4 280.4 L1054.3 280.9 L1057.1 281.5 L1060.0 282.0 L1062.9 282.5 L1065.7 283.1 L1068.6 283.6 L1071.4 284.2 L1074.3 284.8 L1077.2 285.3 L1080.0 285.9 L1082.9 286.5 L1085.7 287.0 L1088.6 287.6 L1091.4 288.2 L1094.3 288.8 L1097.2 289.3 L1100.0 289.9 L1102.9 290.5 L1105.7 291.1 L1108.6 291.7 L1111.4 292.3 L1114.3 292.8 L1117.1 293.4 L1120.0 294.0 L1122.9 294.6 L1125.7 295.2 L1128.6 295.8 L1131.4 296.4 L1134.3 297.0 L1137.1 297.6 L1140.0 298.2 L1142.8 298.8 L1145.7 299.4 L1148.6 300.0 L1151.4 300.6 L1154.3 301.2 L1157.1 301.8 L1160.0 302.4 L1162.8 302.9 L1165.7 303.5 L1168.6 304.1 L1171.4 304.6 L1174.3 305.2 L1177.1 305.7 L1180.0 306.2 L1182.9 306.7 L1185.7 307.2 L1188.6 307.7 L1191.5 308.1 L1194.4 308.6 L1197.3 309.0 L1200.2 309.5 L1203.1 309.9 L1206.0 310.4 L1208.9 310.8 L1211.8 311.2 L1214.6 311.6 L1217.5 312.0 L1220.4 312.4 L1223.2 312.8 L1226.1 313.2 L1228.9 313.6 L1231.7 314.0 L1234.5 314.4 L1237.3 314.7 L1240.0 315.1 L1243.1 315.5 L1246.1 315.9 L1249.1 316.3 L1252.1 316.7 L1255.0 317.1 L1258.0 317.4 L1260.9 317.8 L1263.8 318.2 L1266.7 318.5 L1269.6 318.9 L1272.5 319.2 L1275.4 319.6 L1278.3 319.9 L1281.2 320.3 L1284.1 320.6 L1287.1 321.0 L1290.0 321.3 L1293.0 321.7 L1296.0 322.0 L1299.1 322.4 L1302.3 322.7 L1305.4 323.1 L1308.6 323.4 L1311.8 323.8 L1315.0 324.2 L1318.1 324.5 L1321.1 324.8 L1324.2 325.2 L1327.1 325.5 L1329.9 325.8 L1332.6 326.1 L1335.2 326.4 L1337.7 326.7 L1340.0 327.0 L1343.1 327.4 L1345.9 327.7 L1348.6 328.0 L1351.1 328.3 L1353.5 328.6 L1355.9 328.9 L1358.5 329.3 L1361.2 329.8 L1363.9 330.2 L1366.7 330.8 L1369.4 331.3 L1372.1 331.9 L1374.6 332.5 L1377.0 333.1 L1380.0 334.0 L1382.9 335.0 L1385.5 336.0 L1388.0 337.0 L1390.5 338.1 L1392.9 339.3 L1395.0 340.5 L1397.4 341.9 L1399.5 343.5 L1401.5 345.6 L1403.3 348.0 L1404.3 350.1 L1405.2 352.3 L1406.0 354.7 L1406.8 356.9 L1407.5 359.2 L1408.2 361.6 L1408.8 363.9 L1409.2 366.2 L1409.5 368.4 L1409.7 370.7 L1409.9 373.1 L1410.2 375.5 L1410.5 377.8 L1410.7 380.3 L1411.0 383.1 L1411.2 386.1 L1411.3 388.4 L1411.4 390.8 L1411.5 393.5 L1411.6 396.3 L1411.6 399.2 L1411.6 402.2 L1411.7 405.2 L1411.7 408.3 L1411.7 411.3 L1411.8 414.3 L1411.8 417.2 L1411.8 420.0 L1411.8 422.8 L1411.8 425.6 L1411.9 428.3 L1411.9 431.0 L1411.9 433.8 L1411.9 436.5 L1411.9 439.2 L1411.9 441.9 L1411.9 444.6 L1411.9 447.3 L1411.9 450.0 L1412.0 1241.0 L1412.0 1233.0 L1423.0 1233.0" stroke="#00FF00"/>
<path d="M275.0 1250.0 L275.1 1247.1 L275.2 1244.2 L275.3 1241.3 L275.3 1238.4 L275.4 1235.6 L275.5 1232.7 L275.6 1229.8 L275.7 1227.0 L275.8 1224.1 L275.8 1221.2 L275.9 1218.3 L276.0 1215.3 L276.1 1212.3 L276.2 1209.3 L276.3 1206.3 L276.4 1203.2 L276.5 1200.0 L276.6 1197.3 L276.7 1194.6 L276.8 1191.8 L276.8 1188.9 L276.9 1186.0 L277.0 1183.1 L277.1 1180.2 L277.2 1177.2 L277.3 1174.2 L277.4 1171.2 L277.5 1168.2 L277.6 1165.2 L277.7 1162.2 L277.8 1159.2 L277.9 1156.1 L278.0 1153.1 L278.1 1150.1 L278.2 1147.2 L278.3 1144.2 L278.5 1141.3 L278.6 1138.4 L278.7 1135.6 L278.9 1132.8 L279.0 1130.0 L279.2 1126.9 L279.4 1123.9 L279.5 1120.9 L279.7 1118.0 L279.9 1115.0 L280.2 1112.1 L280.4 1109.2 L280.6 1106.3 L280.8 1103.4 L281.0 1100.6 L281.3 1097.7 L281.5 1094.9 L281.7 1092.1 L281.9 1089.2 L282.2 1086.4 L282.4 1083.6 L282.6 1080.7 L282.8 1077.9 L283.0 1075.0 L283.2 1072.0 L283.4 1069.1 L283.6 1066.2 L283.8 1063.4 L284.0 1060.5 L284.2 1057.7 L284.4 1054.9 L284.6 1052.0 L284.8 1049.2 L285.0 1046.3 L285.2 1043.4 L285.3 1040.5 L285.5 1037.5 L285.7 1034.5 L285.9 1031.5 L286.1 1028.4 L286.3 1025.2 L286.5 1022.0 L286.7 1019.4 L286.8 1016.7 L287.0 1014.0 L287.1 1011.3 L287.3 1008.5 L287.5 1005.8 L287.6 1003.0 L287.8 1000.1 L287.9 997.3 L288.1 994.4 L288.3 991.5 L288.4 988.6 L288.6 985.6 L288.8 982.7 L288.9 979.7 L289.1 976.7 L289.3 973.7 L289.4 970.7 L289.6 967.6 L289.7 964.6 L289.9 961.5 L290.1 958.5 L290.2 955.4 L290.4 952.3 L290.5 949.3 L290.7 946.2 L290.8 943.1 L291.0 940.0 L291.1 937.2 L291.3 934.5 L291.4 931.7 L291.5 928.8 L291.7 926.0 L291.8 923.2 L291.9 920.3 L292.1 917.4 L292.2 914.5 L292.3 911.6 L292.4 908.7 L292.6 905.8 L292.7 902.9 L292.8 899.9 L292.9 897.0 L293.1 894.0 L293.2 891.1 L293.3 888.1 L293.4 885.2 L293.6 882.2 L293.7 879.2 L293.8 876.3 L293.9 873.3 L294.1 870.3 L294.2 867.4 L294.3 864.4 L294.4 861.4 L294.6 858.5 L294.7 855.5 L294.8 852.6 L295.0 849.7 L295.1 846.7 L295.2 843.8 L295.4 840.9 L295.5 838.0 L295.6 835.1 L295.8 832.1 L295.9 829.2 L296.1 826.3 L296.2 823.4 L296.3 820.4 L296.5 817.5 L296.6 814.6 L296.7 811.7 L296.9 808.8 L297.0 805.9 L297.2 802.9 L297.3 800.0 L297.4 797.1 L297.6 794.2 L297.7 791.3 L297.9 788.4 L298.0 785.5 L298.2 782.6 L298.3 779.7 L298.5 776.8 L298.6 773.9 L298.8 771.0 L298.9 768.1 L299.1 765.2 L299.2 762.3 L299.4 759.4 L299.5 756.4 L299.7 753.5 L299.8 750.6 L300.0 747.7 L300.2 744.8 L300.3 741.9 L300.5 739.0 L300.7 736.1 L300.8 733.1 L301.0 730.2 L301.2 727.2 L301.4 724.2 L301.6 721.1 L301.7 718.1 L301.9 715.1 L302.1 712.0 L302.3 709.0 L302.5 705.9 L302.7 702.9 L302.9 699.8 L303.1 696.7 L303.2 693.7 L303.4 690.7 L303.6 687.6 L303.8 684.6 L304.0 681.6 L304.2 678.6 L304.4 675.7 L304.6 672.7 L304.8 669.8 L305.0 666.9 L305.2 664.1 L305.4 661.2 L305.6 658.4 L305.8 655.7 L306.0 653.0 L306.2 650.3 L306.4 647.6 L306.6 645.0 L306.8 642.5 L307.0 640.0 L307.3 636.8 L307.5 633.6 L307.8 630.5 L308.0 627.5 L308.3 624.6 L308.6 621.7 L308.8 618.9 L309.1 616.1 L309.4 613.3 L309.6 610.5 L309.9 607.8 L310.1 605.1 L310.4 602.4 L310.7 599.7 L310.9 597.0 L311.2 594.3 L311.5 591.6 L311.7 588.8 L312.0 586.0 L312.3 583.1 L312.6 580.2 L312.8 577.3 L313.1 574.4 L313.4 571.5 L313.7 568.6 L313.9 565.7 L314.2 562.8 L314.5 559.9 L314.8 557.0 L315.0 554.1 L315.3 551.3 L315.6 548.4 L315.9 545.5 L316.2 542.6 L316.4 539.7 L316.7 536.9 L317.0 534.0 L317.3 531.2 L317.5 528.3 L317.8 525.5 L318.1 522.6 L318.3 519.8 L318.6 517.0 L318.9 514.1 L319.1 511.3 L319.4 508.5 L319.6 505.7 L319.9 502.8 L320.2 500.0 L320.5 497.2 L320.8 494.3 L321.1 491.5 L321.4 488.7 L321.7 485.8 L322.0 483.0 L322.3 480.1 L322.7 477.2 L323.1 474.3 L323.5 471.4 L323.8 468.5 L324.3 465.6 L324.7 462.6 L325.1 459.7 L325.5 456.8 L325.9 453.9 L326.3 451.0 L326.7 448.1 L327.1 445.2 L327.5 442.3 L327.9 439.5 L328.3 436.6 L328.6 433.8 L329.0 431.0 L329.4 428.1 L329.7 425.1 L330.0 422.2 L330.4 419.2 L330.7 416.2 L331.0 413.3 L331.3 410.3 L331.7 407.4 L332.0 404.5 L332.3 401.7 L332.6 398.9 L332.9 396.2 L333.1 393.5 L333.4 390.9 L333.7 388.4 L334.0 386.0 L334.4 383.0 L334.7 380.2 L335.0 377.4 L335.3 374.8 L335.6 372.2 L335.9 369.7 L336.3 367.1 L336.6 364.6 L337.0 362.0 L337.4 359.1 L337.9 356.3 L338.4 353.4 L338.9 350.6 L339.4 347.8 L339.9 344.9 L340.4 342.0 L341.0 339.0 L341.5 336.2 L342.1 333.3 L342.7 330.4 L343.3 327.4 L344.0 324.4 L344.6 321.4 L345.2 318.4 L345.9 315.5 L346.4 312.7 L347.0 310.0 L347.6 306.9 L348.2 303.8 L348.8 300.8 L349.4 297.9 L349.9 295.1 L350.5 292.5 L351.0 290.0 L351.6 287.2 L352.2 284.7 L352.9 282.2 L353.5 279.4 L354.0 276.9 L354.6 274.3 L355.1 271.5 L355.7 268.6 L356.3 265.7 L357.0 262.8 L357.6 260.0 L358.2 257.4 L358.9 254.8 L359.6 252.2 L360.3 249.6 L361.0 247.0 L361.8 244.5 L362.5 242.0 L363.3 239.3 L364.1 236.6 L365.0 234.0 L365.8 231.3 L366.8 228.7 L367.8 226.0 L368.8 223.4 L369.9 220.8 L371.0 218.2 L372.2 215.6 L373.4 213.0 L374.7 210.4 L376.0 208.0 L377.4 205.7 L378.8 203.4 L380.3 201.2 L381.8 199.1 L383.3 197.0 L384.9 194.9 L386.5 193.0 L388.5 190.7 L390.6 188.5 L392.6 186.4 L394.8 184.4 L397.0 182.5 L399.3 180.6 L401.7 178.8 L404.1 177.0 L406.6 175.4 L409.0 174.0 L411.7 172.6 L414.4 171.4 L417.2 170.4 L420.0 169.5 L422.6 168.8 L425.3 168.2 L428.0 167.7 L430.6 167.3 L433.0 167.0 L435.4 166.8 L437.5 166.8 L440.0 166.9 L442.2 167.0 L444.6 167.1 L447.1 167.3 L449.8 167.5 L452.4 167.8 L455.0 168.0 L457.5 168.3 L459.9 168.5 L462.4 168.8 L464.9 169.1 L467.4 169.4 L470.0 169.8 L472.6 170.2 L475.3 170.5 L478.0 170.9 L480.7 171.3 L483.5 171.8 L486.5 172.3 L489.5 172.8 L492.0 173.3 L494.7 173.8 L497.5 174.4 L500.4 175.0 L503.3 175.7 L506.2 176.3 L509.1 177.0 L512.0 177.6 L514.8 178.3 L517.4 178.8 L520.0 179.4 L523.0 180.0 L525.8 180.6 L528.5 181.2 L531.2 181.7 L533.9 182.3 L536.8 182.9 L540.0 183.6 L542.4 184.2 L544.9 184.8 L547.5 185.4 L550.2 186.1 L552.9 186.8 L555.8 187.5 L558.6 188.2 L561.6 189.0 L564.5 189.7 L567.6 190.5 L570.6 191.3 L573.7 192.0 L576.9 192.8 L580.0 193.5 L582.6 194.1 L585.2 194.7 L587.9 195.3 L590.7 195.9 L593.4 196.5 L596.2 197.1 L599.1 197.7 L602.0 198.3 L604.9 198.9 L607.8 199.6 L610.7 200.2 L613.6 200.8 L616.6 201.4 L619.5 202.0 L622.5 202.6 L625.4 203.3 L628.4 203.9 L631.3 204.5 L634.2 205.1 L637.1 205.7 L640.0 206.3 L642.9 206.9 L645.7 207.5 L648.6 208.1 L651.4 208.7 L654.3 209.3 L657.1 210.0 L660.0 210.6 L662.8 211.2 L665.7 211.8 L668.6 212.4 L671.4 213.0 L674.3 213.6 L677.1 214.2 L680.0 214.8 L682.8 215.4 L685.7 216.0 L688.6 216.6 L691.4 217.1 L694.3 217.7 L697.1 218.3 L700.0 218.8 L702.9 219.3 L705.7 219.8 L708.6 220.3 L711.4 220.8 L714.3 221.3 L717.1 221.8 L720.0 222.3 L722.8 222.7 L725.7 223.2 L728.6 223.7 L731.4 224.1 L734.3 224.6 L737.1 225.0 L740.0 225.5 L742.9 225.9 L745.7 226.4 L748.6 226.9 L751.4 227.3 L754.3 227.8 L757.1 228.3 L760.0 228.8 L762.9 229.3 L765.7 229.8 L768.6 230.3 L771.4 230.9 L774.3 231.4 L777.1 231.9 L780.0 232.5 L782.9 233.0 L785.7 233.6 L788.6 234.1 L791.4 234.7 L794.3 235.2 L797.1 235.7 L800.0 236.3 L802.8 236.8 L805.7 237.3 L808.6 237.8 L811.4 238.3 L814.3 238.8 L817.1 239.2 L820.0 239.7 L822.9 240.1 L825.7 240.6 L828.6 241.0 L831.4 241.4 L834.3 241.8 L837.1 242.2 L840.0 242.5 L842.8 242.9 L845.7 243.3 L848.6 243.6 L851.4 244.0 L854.3 244.3 L857.1 244.7 L860.0 245.0 L862.8 245.4 L865.7 245.7 L868.6 246.1 L871.4 246.4 L874.3 246.7 L877.1 247.1 L880.0 247.4 L882.9 247.7 L885.7 248.1 L888.6 248.4 L891.4 248.7 L894.3 249.0 L897.1 249.3 L900.0 249.6 L902.9 249.9 L905.7 250.1 L908.6 250.4 L911.4 250.7 L914.3 251.0 L917.2 251.3 L920.0 251.6 L922.9 251.9 L925.7 252.2 L928.6 252.5 L931.4 252.9 L934.3 253.2 L937.1 253.5 L940.0 253.9 L942.9 254.3 L945.7 254.7 L948.6 255.1 L951.4 255.5 L954.3 255.9 L957.2 256.3 L960.0 256.7 L962.9 257.2 L965.7 257.6 L968.6 258.1 L971.4 258.5 L974.3 258.9 L977.1 259.4 L980.0 259.8 L982.9 260.3 L985.7 260.7 L988.6 261.1 L991.4 261.6 L994.3 262.0 L997.1 262.4 L1000.0 262.8 L1002.9 263.2 L1005.7 263.6 L1008.6 264.0 L1011.4 264.4 L1014.3 264.8 L1017.1 265.1 L1020.0 265.5 L1022.8 265.9 L1025.7 266.3 L1028.6 266.6 L1031.4 267.0 L1034.3 267.4 L1037.1 267.7 L1040.0 268.1 L1042.8 268.5 L1045.7 268.8 L1048.6 269.2 L1051.4 269.5 L1054.3 269.8 L1057.1 270.2 L1060.0 270.5 L1062.9 270.8 L1065.7 271.1 L1068.6 271.4 L1071.4 271.7 L1074.3 272.0 L1077.1 272.3 L1080.0 272.6 L1082.9 272.9 L1085.7 273.2 L1088.6 273.4 L1091.4 273.7 L1094.3 274.0 L1097.1 274.2 L1100.0 274.5 L1102.9 274.8 L1105.7 275.1 L1108.6 275.3 L1111.4 275.6 L1114.3 275.9 L1117.1 276.2 L1120.0 276.5 L1122.9 276.8 L1125.7 277.1 L1128.6 277.4 L1131.5 277.7 L1134.4 278.0 L1137.3 278.4 L1140.2 278.7 L1143.1 279.0 L1146.0 279.3 L1148.9 279.6 L1151.8 280.0 L1154.7 280.3 L1157.5 280.6 L1160.4 280.9 L1163.3 281.2 L1166.1 281.6 L1168.9 281.9 L1171.7 282.2 L1174.5 282.5 L1177.3 282.8 L1180.0 283.1 L1183.1 283.4 L1186.1 283.8 L1189.0 284.1 L1192.0 284.4 L1194.9 284.7 L1197.8 285.0 L1200.7 285.3 L1203.6 285.6 L1206.4 285.9 L1209.3 286.2 L1212.2 286.5 L1215.1 286.8 L1218.0 287.1 L1221.0 287.5 L1223.9 287.8 L1226.9 288.1 L1230.0 288.5 L1232.7 288.8 L1235.5 289.2 L1238.3 289.5 L1241.2 289.8 L1244.0 290.2 L1246.9 290.5 L1249.8 290.9 L1252.7 291.3 L1255.6 291.6 L1258.6 292.0 L1261.5 292.4 L1264.4 292.8 L1267.3 293.1 L1270.2 293.5 L1273.1 293.9 L1276.0 294.3 L1278.8 294.7 L1281.7 295.1 L1284.5 295.5 L1287.3 295.9 L1290.0 296.3 L1293.1 296.8 L1296.1 297.2 L1299.0 297.7 L1302.0 298.2 L1304.9 298.7 L1307.8 299.2 L1310.7 299.8 L1313.6 300.3 L1316.4 300.8 L1319.3 301.3 L1322.2 301.8 L1325.1 302.3 L1328.0 302.8 L1331.0 303.3 L1333.9 303.7 L1336.9 304.2 L1340.0 304.6 L1342.7 305.0 L1345.5 305.3 L1348.3 305.7 L1351.1 306.0 L1353.9 306.3 L1356.7 306.7 L1359.6 307.0 L1362.4 307.3 L1365.3 307.6 L1368.2 307.9 L1371.1 308.2 L1374.0 308.5 L1376.9 308.8 L1379.8 309.1 L1382.7 309.4 L1385.6 309.6 L1388.5 309.9 L1391.4 310.2 L1394.3 310.5 L1397.1 310.7 L1400.0 311.0 L1402.8 311.3 L1405.7 311.5 L1408.5 311.8 L1411.3 312.0 L1414.1 312.3 L1416.9 312.5 L1419.7 312.8 L1422.4 313.0 L1425.2 313.2 L1428.0 313.4 L1430.8 313.7 L1433.6 313.9 L1436.5 314.1 L1439.3 314.3 L1442.2 314.6 L1445.1 314.8 L1448.0 315.0 L1450.9 315.3 L1453.9 315.5 L1456.9 315.8 L1460.0 316.0 L1462.7 316.2 L1465.5 316.4 L1468.2 316.7 L1471.0 316.9 L1473.9 317.1 L1476.7 317.4 L1479.6 317.6 L1482.5 317.9 L1485.4 318.1 L1488.4 318.4 L1491.3 318.6 L1494.3 318.9 L1497.2 319.1 L1500.2 319.4 L1503.2 319.6 L1506.2 319.8 L1509.2 320.1 L1512.2 320.3 L1515.2 320.6 L1518.2 320.8 L1521.2 321.0 L1524.2 321.3 L1527.1 321.5 L1530.1 321.7 L1533.0 321.9 L1536.0 322.1 L1538.9 322.3 L1541.8 322.5 L1544.8 322.7 L1547.8 322.9 L1550.8 323.1 L1554.0 323.2 L1557.1 323.4 L1560.3 323.6 L1563.5 323.7 L1566.7 323.9 L1569.9 324.1 L1573.1 324.2 L1576.3 324.4 L1579.5 324.5 L1582.6 324.7 L1585.8 324.8 L1588.9 324.9 L1591.9 325.1 L1594.9 325.2 L1597.8 325.4 L1600.7 325.5 L1603.4 325.6 L1606.1 325.7 L1608.7 325.9 L1611.2 326.0 L1613.6 326.1 L1615.8 326.3 L1618.0 326.4 L1620.0 326.5 L1623.5 326.7 L1626.6 326.9 L1629.4 327.1 L1632.0 327.3 L1634.5 327.5 L1637.2 327.7 L1640.0 328.0 L1642.9 328.3 L1645.8 328.6 L1648.8 329.0 L1651.8 329.3 L1654.8 329.7 L1657.8 330.1 L1660.8 330.6 L1663.8 331.0 L1666.5 331.4 L1669.2 331.8 L1671.9 332.2 L1674.6 332.6 L1677.3 333.0 L1680.0 333.5 L1682.6 333.9 L1685.1 334.4 L1687.5 335.0 L1690.4 335.7 L1693.2 336.4 L1695.9 337.1 L1698.5 338.0 L1701.0 338.9 L1703.4 340.1 L1705.6 341.4 L1707.8 342.9 L1709.8 344.6 L1711.8 346.2 L1713.6 348.0 L1715.3 349.6 L1717.2 351.5 L1718.9 353.4 L1720.4 355.3 L1721.6 357.5 L1722.4 359.6 L1723.0 361.9 L1723.4 364.2 L1723.7 366.7 L1724.0 369.4 L1724.3 372.0 L1724.5 374.8 L1724.6 377.6 L1724.8 380.6 L1724.9 383.7 L1724.9 386.8 L1725.0 390.0 L1725.0 392.5 L1725.1 395.1 L1725.1 397.8 L1725.1 400.5 L1725.1 403.3 L1725.1 406.0 L1725.1 408.9 L1725.0 411.7 L1725.0 414.5 L1725.0 417.3 L1725.0 420.0 L1725.0 422.7 L1725.0 425.5 L1725.0 428.2 L1725.0 430.9 L1725.0 433.6 L1725.0 436.4 L1725.0 439.1 L1725.0 441.8 L1725.0 444.5 L1725.0 447.3 L1725.0 450.0 L1725.0 1233.0 L1725.0 1224.0 L1739.0 1224.0" stroke="#008080"/>
<path d="M276.0 1250.0 L276.1 1247.1 L276.1 1244.2 L276.2 1241.3 L276.2 1238.4 L276.3 1235.6 L276.3 1232.7 L276.4 1229.8 L276.4 1227.0 L276.5 1224.1 L276.5 1221.2 L276.6 1218.3 L276.7 1215.3 L276.7 1212.3 L276.8 1209.3 L276.9 1206.3 L276.9 1203.2 L277.0 1200.0 L277.1 1197.3 L277.1 1194.6 L277.2 1191.8 L277.3 1188.9 L277.3 1186.0 L277.4 1183.1 L277.4 1180.2 L277.5 1177.2 L277.6 1174.2 L277.6 1171.2 L277.7 1168.2 L277.8 1165.2 L277.9 1162.2 L277.9 1159.2 L278.0 1156.1 L278.1 1153.1 L278.2 1150.1 L278.3 1147.2 L278.4 1144.2 L278.5 1141.3 L278.6 1138.4 L278.7 1135.6 L278.9 1132.8 L279.0 1130.0 L279.2 1126.9 L279.3 1123.9 L279.5 1120.9 L279.7 1118.0 L279.9 1115.0 L280.1 1112.1 L280.3 1109.2 L280.5 1106.3 L280.8 1103.4 L281.0 1100.6 L281.2 1097.7 L281.4 1094.9 L281.7 1092.1 L281.9 1089.2 L282.1 1086.4 L282.3 1083.6 L282.6 1080.7 L282.8 1077.9 L283.0 1075.0 L283.2 1072.0 L283.4 1069.1 L283.7 1066.2 L283.9 1063.4 L284.1 1060.5 L284.4 1057.7 L284.6 1054.9 L284.8 1052.0 L285.0 1049.2 L285.3 1046.3 L285.5 1043.4 L285.7 1040.5 L285.9 1037.5 L286.2 1034.5 L286.4 1031.5 L286.6 1028.4 L286.8 1025.2 L287.0 1022.0 L287.2 1019.4 L287.3 1016.7 L287.5 1014.0 L287.6 1011.3 L287.8 1008.6 L287.9 1005.8 L288.1 1003.0 L288.2 1000.1 L288.4 997.3 L288.5 994.4 L288.6 991.5 L288.8 988.6 L288.9 985.6 L289.1 982.7 L289.2 979.7 L289.3 976.7 L289.5 973.7 L289.6 970.7 L289.7 967.6 L289.9 964.6 L290.0 961.5 L290.2 958.5 L290.3 955.4 L290.4 952.3 L290.6 949.3 L290.7 946.2 L290.9 943.1 L291.0 940.0 L291.1 937.2 L291.3 934.5 L291.4 931.7 L291.5 928.8 L291.6 926.0 L291.8 923.2 L291.9 920.3 L292.0 917.4 L292.1 914.5 L292.3 911.6 L292.4 908.7 L292.5 905.8 L292.6 902.9 L292.8 899.9 L292.9 897.0 L293.0 894.0 L293.1 891.1 L293.3 888.1 L293.4 885.2 L293.5 882.2 L293.7 879.2 L293.8 876.3 L293.9 873.3 L294.0 870.3 L294.2 867.4 L294.3 864.4 L294.4 861.4 L294.6 858.5 L294.7 855.5 L294.8 852.6 L295.0 849.7 L295.1 846.7 L295.2 843.8 L295.4 840.9 L295.5 838.0 L295.6 835.1 L295.8 832.1 L295.9 829.2 L296.1 826.3 L296.2 823.4 L296.3 820.4 L296.5 817.5 L296.6 814.6 L296.8 811.7 L296.9 808.8 L297.0 805.9 L297.2 802.9 L297.3 800.0 L297.5 797.1 L297.6 794.2 L297.8 791.3 L297.9 788.4 L298.0 785.5 L298.2 782.6 L298.3 779.7 L298.5 776.8 L298.6 773.9 L298.8 771.0 L298.9 768.1 L299.1 765.2 L299.2 762.3 L299.4 759.4 L299.6 756.4 L299.7 753.5 L299.9 750.6 L300.0 747.7 L300.2 744.8 L300.3 741.9 L300.5 739.0 L300.7 736.1 L300.8 733.1 L301.0 730.2 L301.2 727.2 L301.3 724.2 L301.5 721.1 L301.7 718.1 L301.8 715.1 L302.0 712.0 L302.2 709.0 L302.4 705.9 L302.5 702.9 L302.7 699.8 L302.9 696.7 L303.1 693.7 L303.3 690.7 L303.4 687.6 L303.6 684.6 L303.8 681.6 L304.0 678.6 L304.2 675.7 L304.3 672.7 L304.5 669.8 L304.7 666.9 L304.9 664.1 L305.1 661.2 L305.2 658.4 L305.4 655.7 L305.6 653.0 L305.8 650.3 L306.0 647.6 L306.1 645.0 L306.3 642.5 L306.5 640.0 L306.7 636.8 L307.0 633.6 L307.2 630.5 L307.4 627.5 L307.7 624.6 L307.9 621.7 L308.1 618.9 L308.3 616.1 L308.6 613.3 L308.8 610.5 L309.0 607.8 L309.3 605.1 L309.5 602.4 L309.7 599.7 L310.0 597.0 L310.2 594.3 L310.5 591.6 L310.7 588.8 L311.0 586.0 L311.3 583.1 L311.6 580.2 L311.9 577.3 L312.1 574.4 L312.4 571.5 L312.8 568.6 L313.1 565.7 L313.4 562.8 L313.7 559.9 L314.0 557.0 L314.3 554.1 L314.6 551.3 L314.9 548.4 L315.3 545.5 L315.6 542.6 L315.9 539.7 L316.2 536.9 L316.5 534.0 L316.8 531.2 L317.1 528.3 L317.4 525.5 L317.7 522.6 L318.0 519.8 L318.3 517.0 L318.6 514.2 L318.9 511.3 L319.2 508.5 L319.5 505.7 L319.8 502.8 L320.1 500.0 L320.4 497.2 L320.7 494.4 L321.0 491.5 L321.3 488.7 L321.7 485.8 L322.0 483.0 L322.3 480.1 L322.7 477.2 L323.0 474.2 L323.4 471.2 L323.7 468.2 L324.1 465.2 L324.4 462.2 L324.8 459.2 L325.1 456.2 L325.5 453.2 L325.8 450.3 L326.2 447.3 L326.6 444.5 L327.0 441.7 L327.3 438.9 L327.7 436.2 L328.1 433.6 L328.5 431.0 L329.0 427.8 L329.6 424.7 L330.1 421.6 L330.7 418.6 L331.3 415.7 L331.9 412.8 L332.4 410.0 L333.0 407.3 L333.5 404.8 L333.9 402.3 L334.3 400.0 L334.7 397.0 L335.1 394.3 L335.3 391.8 L335.7 389.2 L336.1 386.3 L336.5 383.9 L337.0 381.5 L337.5 378.9 L338.0 376.2 L338.5 373.5 L339.1 370.7 L339.7 368.0 L340.3 365.3 L340.9 362.6 L341.5 359.9 L342.1 357.1 L342.7 354.3 L343.3 351.5 L344.0 348.8 L344.7 346.1 L345.3 343.5 L346.1 341.1 L346.8 338.8 L347.8 336.1 L348.9 333.7 L350.0 331.4 L351.1 329.2 L352.3 326.9 L353.6 324.5 L354.9 322.1 L356.3 319.7 L357.7 317.3 L359.2 315.0 L360.8 312.6 L362.6 310.2 L364.3 307.9 L366.1 305.5 L368.0 303.2 L369.6 301.2 L371.2 299.2 L372.9 297.2 L374.6 295.2 L376.3 293.3 L378.1 291.3 L380.0 289.3 L381.9 287.3 L383.9 285.3 L385.8 283.4 L387.8 281.4 L389.7 279.4 L391.5 277.4 L393.4 275.4 L395.1 273.4 L396.9 271.5 L398.8 269.5 L400.6 267.5 L402.5 265.5 L404.5 263.4 L406.5 261.3 L408.5 259.3 L410.4 257.4 L412.3 255.6 L414.5 253.6 L416.7 251.8 L418.8 250.2 L421.1 248.5 L423.1 247.1 L425.3 245.7 L427.5 244.3 L429.6 243.0 L431.7 241.9 L434.5 240.6 L437.3 239.6 L440.0 238.5 L442.4 237.4 L444.8 236.4 L447.5 235.3 L449.8 234.5 L452.3 233.6 L454.9 232.7 L457.7 231.8 L460.5 231.0 L463.4 230.3 L465.9 229.8 L468.4 229.3 L471.1 228.9 L473.7 228.5 L476.4 228.2 L479.1 227.9 L481.8 227.6 L484.5 227.4 L487.2 227.2 L489.9 227.2 L492.6 227.1 L495.3 227.1 L498.0 227.1 L500.6 227.2 L503.2 227.2 L505.6 227.2 L508.6 227.2 L511.4 227.2 L514.2 227.2 L517.0 227.2 L520.0 227.3 L522.6 227.4 L525.3 227.4 L528.0 227.5 L530.8 227.6 L533.7 227.8 L536.8 228.0 L540.0 228.2 L542.4 228.4 L544.9 228.7 L547.5 229.0 L550.2 229.3 L552.9 229.6 L555.8 230.0 L558.6 230.3 L561.6 230.7 L564.6 231.1 L567.6 231.5 L570.6 231.9 L573.7 232.3 L576.9 232.7 L580.0 233.1 L582.6 233.4 L585.2 233.7 L587.9 234.0 L590.7 234.4 L593.4 234.7 L596.3 235.0 L599.1 235.4 L602.0 235.7 L604.9 236.1 L607.8 236.4 L610.7 236.8 L613.6 237.1 L616.6 237.4 L619.5 237.8 L622.5 238.1 L625.4 238.5 L628.4 238.8 L631.3 239.1 L634.2 239.5 L637.1 239.8 L640.0 240.1 L642.9 240.4 L645.7 240.7 L648.6 241.0 L651.4 241.3 L654.3 241.6 L657.1 241.9 L660.0 242.2 L662.9 242.5 L665.7 242.7 L668.6 243.0 L671.4 243.3 L674.3 243.6 L677.1 243.9 L680.0 244.2 L682.9 244.4 L685.7 244.7 L688.6 245.0 L691.4 245.3 L694.3 245.7 L697.1 246.0 L700.0 246.3 L702.9 246.6 L705.7 247.0 L708.6 247.3 L711.4 247.7 L714.3 248.0 L717.1 248.4 L720.0 248.8 L722.9 249.2 L725.7 249.5 L728.6 249.9 L731.4 250.3 L734.3 250.7 L737.1 251.1 L740.0 251.4 L742.9 251.8 L745.7 252.2 L748.6 252.6 L751.4 252.9 L754.3 253.3 L757.1 253.6 L760.0 254.0 L762.9 254.3 L765.7 254.7 L768.6 255.0 L771.4 255.4 L774.3 255.7 L777.1 256.1 L780.0 256.4 L782.9 256.8 L785.7 257.1 L788.6 257.4 L791.4 257.8 L794.3 258.1 L797.1 258.4 L800.0 258.8 L802.9 259.1 L805.7 259.4 L808.6 259.7 L811.4 260.1 L814.3 260.4 L817.1 260.7 L820.0 261.0 L822.9 261.3 L825.7 261.6 L828.6 261.9 L831.4 262.2 L834.3 262.5 L837.1 262.8 L840.0 263.0 L842.9 263.3 L845.7 263.6 L848.6 263.9 L851.4 264.1 L854.3 264.4 L857.1 264.7 L860.0 265.0 L862.9 265.2 L865.7 265.5 L868.6 265.8 L871.4 266.1 L874.3 266.4 L877.1 266.7 L880.0 267.0 L882.9 267.3 L885.7 267.6 L888.6 267.9 L891.4 268.3 L894.3 268.6 L897.1 268.9 L900.0 269.2 L902.9 269.6 L905.7 269.9 L908.6 270.3 L911.4 270.6 L914.3 270.9 L917.1 271.3 L920.0 271.6 L922.9 271.9 L925.7 272.3 L928.6 272.6 L931.4 273.0 L934.3 273.3 L937.1 273.7 L940.0 274.0 L942.9 274.3 L945.7 274.7 L948.6 275.0 L951.4 275.4 L954.3 275.7 L957.1 276.0 L960.0 276.4 L962.9 276.7 L965.7 277.1 L968.6 277.4 L971.4 277.8 L974.3 278.1 L977.1 278.5 L980.0 278.8 L982.9 279.2 L985.7 279.5 L988.6 279.9 L991.4 280.2 L994.3 280.6 L997.1 280.9 L1000.0 281.3 L1002.9 281.7 L1005.7 282.0 L1008.6 282.4 L1011.4 282.8 L1014.3 283.2 L1017.1 283.6 L1020.0 284.0 L1022.9 284.4 L1025.7 284.7 L1028.6 285.1 L1031.4 285.5 L1034.3 285.9 L1037.1 286.3 L1040.0 286.7 L1042.9 287.1 L1045.7 287.4 L1048.6 287.8 L1051.4 288.2 L1054.3 288.5 L1057.1 288.9 L1060.0 289.2 L1062.9 289.5 L1065.7 289.8 L1068.6 290.2 L1071.4 290.5 L1074.3 290.8 L1077.1 291.1 L1080.0 291.3 L1082.8 291.6 L1085.7 291.9 L1088.6 292.2 L1091.4 292.5 L1094.3 292.7 L1097.1 293.0 L1100.0 293.3 L1102.9 293.5 L1105.7 293.8 L1108.6 294.1 L1111.4 294.4 L1114.3 294.6 L1117.1 294.9 L1120.0 295.2 L1122.9 295.5 L1125.7 295.8 L1128.6 296.1 L1131.5 296.3 L1134.4 296.6 L1137.3 296.9 L1140.2 297.2 L1143.1 297.5 L1146.0 297.8 L1148.9 298.1 L1151.8 298.4 L1154.7 298.6 L1157.5 298.9 L1160.4 299.2 L1163.3 299.5 L1166.1 299.8 L1168.9 300.0 L1171.7 300.3 L1174.5 300.6 L1177.3 300.8 L1180.0 301.1 L1183.1 301.4 L1186.1 301.7 L1189.0 302.0 L1192.0 302.2 L1194.9 302.5 L1197.8 302.8 L1200.7 303.0 L1203.6 303.3 L1206.4 303.6 L1209.3 303.8 L1212.2 304.1 L1215.1 304.4 L1218.0 304.6 L1221.0 304.9 L1223.9 305.2 L1226.9 305.4 L1230.0 305.7 L1232.7 305.9 L1235.5 306.2 L1238.3 306.4 L1241.2 306.6 L1244.0 306.9 L1246.9 307.1 L1249.8 307.3 L1252.7 307.6 L1255.6 307.8 L1258.5 308.0 L1261.5 308.2 L1264.4 308.5 L1267.3 308.7 L1270.2 308.9 L1273.1 309.2 L1276.0 309.4 L1278.8 309.7 L1281.7 309.9 L1284.5 310.2 L1287.3 310.4 L1290.0 310.7 L1293.1 311.0 L1296.3 311.3 L1299.5 311.7 L1302.7 312.1 L1306.0 312.4 L1309.2 312.8 L1312.5 313.2 L1315.6 313.6 L1318.8 314.0 L1321.8 314.3 L1324.8 314.7 L1327.7 315.0 L1330.5 315.3 L1333.1 315.6 L1335.6 315.9 L1337.9 316.1 L1340.0 316.3 L1343.3 316.5 L1346.2 316.6 L1348.8 316.7 L1351.3 316.8 L1353.9 317.0 L1356.7 317.3 L1359.5 317.7 L1362.3 318.1 L1365.0 318.6 L1367.7 319.1 L1370.6 319.7 L1373.5 320.2 L1376.3 320.9 L1378.8 321.6 L1381.3 322.5 L1383.6 323.4 L1385.7 324.6 L1387.6 326.0 L1389.3 327.6 L1390.8 329.3 L1392.2 331.3 L1393.3 333.4 L1394.3 335.7 L1395.1 338.2 L1395.7 340.8 L1396.2 343.6 L1396.6 346.2 L1396.8 348.8 L1397.1 351.7 L1397.3 354.7 L1397.5 357.1 L1397.6 359.6 L1397.7 362.3 L1397.9 365.0 L1398.0 367.7 L1398.1 370.4 L1398.2 373.1 L1398.3 375.7 L1398.4 378.3 L1398.5 380.8 L1398.6 383.4 L1398.7 386.0 L1398.7 388.7 L1398.8 391.6 L1398.8 394.2 L1398.9 396.9 L1398.9 399.6 L1398.9 402.5 L1398.9 405.4 L1399.0 408.3 L1399.0 411.2 L1399.0 414.2 L1399.0 417.1 L1399.0 420.0 L1399.0 422.7 L1399.0 425.4 L1399.0 428.1 L1399.0 430.8 L1399.0 433.6 L1399.0 436.3 L1399.0 439.1 L1399.0 441.8 L1399.0 444.5 L1399.0 447.3 L1399.0 450.0 L1399.0 1229.0 L1399.0 1219.0 L1409.0 1219.0" stroke="#FF00FF"/>
<path d="M274.6 1250.0 L274.9 1247.7 L275.1 1245.5 L275.4 1243.1 L275.6 1240.0 L275.7 1238.2 L275.8 1236.1 L275.9 1233.9 L275.9 1231.4 L276.0 1228.9 L276.1 1226.1 L276.1 1223.3 L276.2 1220.3 L276.2 1217.2 L276.3 1214.1 L276.3 1210.9 L276.4 1207.7 L276.4 1204.4 L276.5 1201.2 L276.5 1198.0 L276.6 1194.7 L276.7 1191.6 L276.7 1188.5 L276.8 1185.5 L276.9 1182.6 L277.0 1179.7 L277.0 1176.8 L277.1 1173.8 L277.2 1170.8 L277.3 1167.8 L277.3 1164.8 L277.4 1161.8 L277.5 1158.7 L277.6 1155.7 L277.7 1152.7 L277.8 1149.7 L277.9 1146.7 L278.0 1143.7 L278.1 1140.8 L278.2 1137.8 L278.3 1135.0 L278.4 1132.2 L278.5 1129.4 L278.7 1126.7 L278.8 1124.0 L279.0 1120.8 L279.2 1117.6 L279.4 1114.4 L279.6 1111.3 L279.8 1108.2 L280.0 1105.2 L280.2 1102.2 L280.4 1099.3 L280.7 1096.4 L280.9 1093.6 L281.1 1090.9 L281.4 1088.2 L281.6 1085.7 L281.9 1083.2 L282.3 1080.0 L282.7 1077.2 L283.2 1074.5 L283.6 1071.9 L284.0 1069.2 L284.4 1066.2 L284.8 1062.8 L285.0 1060.6 L285.2 1058.2 L285.3 1055.8 L285.5 1053.2 L285.6 1050.5 L285.8 1047.7 L285.9 1044.8 L286.0 1041.8 L286.1 1038.8 L286.2 1035.7 L286.3 1032.6 L286.5 1029.5 L286.6 1026.3 L286.7 1023.1 L286.8 1019.9 L286.9 1016.7 L287.0 1013.6 L287.2 1010.5 L287.3 1007.4 L287.4 1004.4 L287.6 1001.4 L287.8 998.5 L287.9 995.6 L288.1 992.8 L288.3 989.9 L288.5 987.1 L288.7 984.3 L288.9 981.5 L289.1 978.7 L289.3 975.9 L289.5 973.1 L289.7 970.3 L289.9 967.4 L290.1 964.5 L290.3 961.6 L290.5 958.7 L290.7 955.7 L290.9 952.7 L291.1 949.6 L291.3 946.5 L291.5 943.3 L291.7 940.0 L291.8 937.4 L292.0 934.8 L292.1 932.2 L292.3 929.5 L292.4 926.8 L292.6 924.0 L292.7 921.2 L292.8 918.4 L293.0 915.6 L293.1 912.7 L293.3 909.8 L293.4 906.9 L293.5 903.9 L293.7 901.0 L293.8 898.0 L293.9 895.0 L294.1 892.0 L294.2 889.0 L294.3 886.0 L294.5 883.0 L294.6 879.9 L294.8 876.9 L294.9 873.9 L295.0 870.8 L295.2 867.8 L295.3 864.8 L295.4 861.7 L295.6 858.7 L295.7 855.7 L295.9 852.7 L296.0 849.7 L296.2 846.8 L296.3 843.8 L296.5 840.9 L296.6 838.0 L296.8 835.1 L296.9 832.1 L297.1 829.2 L297.2 826.3 L297.4 823.4 L297.5 820.4 L297.7 817.5 L297.8 814.6 L298.0 811.7 L298.1 808.8 L298.3 805.9 L298.4 802.9 L298.6 800.0 L298.7 797.1 L298.9 794.2 L299.0 791.3 L299.2 788.4 L299.4 785.5 L299.5 782.6 L299.7 779.7 L299.8 776.8 L300.0 773.9 L300.2 771.0 L300.3 768.1 L300.5 765.2 L300.6 762.3 L300.8 759.4 L301.0 756.4 L301.1 753.5 L301.3 750.6 L301.5 747.7 L301.7 744.8 L301.8 741.9 L302.0 739.0 L302.2 736.1 L302.4 733.1 L302.5 730.2 L302.7 727.2 L302.9 724.2 L303.1 721.1 L303.3 718.1 L303.5 715.1 L303.6 712.0 L303.8 709.0 L304.0 705.9 L304.2 702.9 L304.4 699.8 L304.6 696.8 L304.8 693.7 L305.0 690.7 L305.2 687.6 L305.4 684.6 L305.6 681.6 L305.8 678.7 L306.0 675.7 L306.2 672.7 L306.4 669.8 L306.6 666.9 L306.8 664.1 L307.0 661.3 L307.2 658.5 L307.3 655.7 L307.5 653.0 L307.7 650.3 L307.9 647.6 L308.1 645.1 L308.3 642.5 L308.5 640.0 L308.7 636.8 L309.0 633.6 L309.2 630.5 L309.5 627.5 L309.7 624.5 L310.0 621.6 L310.2 618.8 L310.5 616.0 L310.7 613.2 L311.0 610.4 L311.2 607.7 L311.5 605.0 L311.7 602.3 L311.9 599.5 L312.2 596.8 L312.4 594.1 L312.7 591.4 L312.9 588.6 L313.2 585.8 L313.5 582.9 L313.7 580.0 L314.0 577.2 L314.2 574.3 L314.5 571.4 L314.8 568.6 L315.0 565.7 L315.3 562.9 L315.5 560.0 L315.8 557.2 L316.1 554.3 L316.3 551.5 L316.6 548.6 L316.9 545.8 L317.2 542.9 L317.4 540.1 L317.7 537.3 L318.0 534.4 L318.3 531.5 L318.6 528.7 L318.8 525.8 L319.1 523.0 L319.4 520.1 L319.7 517.3 L319.9 514.4 L320.2 511.5 L320.5 508.7 L320.8 505.8 L321.1 503.0 L321.4 500.1 L321.7 497.3 L322.0 494.4 L322.4 491.6 L322.7 488.7 L323.1 485.9 L323.5 483.0 L323.9 480.1 L324.4 477.2 L324.8 474.3 L325.3 471.3 L325.8 468.3 L326.3 465.3 L326.8 462.4 L327.3 459.4 L327.8 456.4 L328.4 453.5 L328.9 450.6 L329.4 447.7 L330.0 444.9 L330.5 442.1 L331.0 439.3 L331.6 436.7 L332.1 434.0 L332.6 431.5 L333.3 428.3 L333.9 425.1 L334.6 422.0 L335.2 418.9 L335.9 415.9 L336.5 413.0 L337.2 410.1 L337.8 407.4 L338.5 404.8 L339.1 402.3 L339.8 400.0 L340.7 396.9 L341.7 394.0 L342.6 391.4 L343.6 388.9 L344.6 386.3 L345.6 383.8 L346.7 381.3 L347.8 378.8 L348.9 376.5 L350.1 374.4 L351.4 372.3 L352.7 370.4 L354.2 368.7 L355.8 367.3 L358.0 366.3 L360.3 365.7 L363.0 365.1 L365.5 364.5 L368.4 363.8 L371.4 363.2 L374.3 362.4 L377.2 361.6 L379.9 360.7 L382.5 359.7 L385.1 358.6 L387.7 357.4 L390.3 356.0 L392.7 354.5 L395.0 352.9 L397.4 351.1 L399.7 349.3 L402.1 347.4 L404.5 345.5 L406.5 344.0 L408.5 342.4 L410.5 340.8 L412.6 339.2 L414.6 337.6 L416.7 335.9 L418.8 334.2 L421.0 332.5 L423.0 330.8 L425.1 329.1 L427.1 327.3 L429.2 325.5 L431.3 323.6 L433.5 321.8 L435.6 320.0 L437.8 318.3 L440.0 316.6 L442.2 315.1 L444.8 313.5 L447.4 311.9 L450.0 310.5 L452.7 309.1 L455.4 307.8 L458.1 306.6 L460.7 305.3 L463.4 304.0 L466.0 302.7 L468.6 301.5 L471.3 300.2 L473.9 299.0 L476.5 297.8 L479.2 296.7 L481.8 295.6 L484.5 294.5 L487.1 293.5 L489.8 292.5 L492.5 291.5 L495.3 290.6 L497.9 289.8 L500.6 289.0 L503.1 288.2 L505.6 287.6 L508.6 286.9 L511.4 286.4 L514.2 286.0 L517.0 285.6 L520.0 285.2 L522.7 284.8 L525.5 284.4 L528.3 284.1 L531.2 283.7 L534.2 283.4 L537.1 283.1 L540.0 282.8 L542.9 282.6 L545.7 282.4 L548.6 282.2 L551.4 282.1 L554.3 282.0 L557.1 281.9 L560.0 281.8 L562.8 281.7 L565.4 281.7 L568.0 281.6 L570.7 281.6 L573.5 281.6 L576.6 281.7 L580.0 281.7 L582.2 281.7 L584.5 281.8 L586.9 281.8 L589.4 281.9 L592.1 281.9 L594.8 282.0 L597.6 282.1 L600.5 282.2 L603.5 282.3 L606.5 282.3 L609.5 282.4 L612.6 282.5 L615.7 282.6 L618.8 282.8 L621.9 282.9 L625.0 283.0 L628.1 283.1 L631.1 283.2 L634.2 283.3 L637.1 283.5 L640.0 283.6 L642.9 283.7 L645.7 283.9 L648.6 284.0 L651.4 284.1 L654.3 284.3 L657.1 284.4 L660.0 284.6 L662.9 284.7 L665.7 284.9 L668.6 285.0 L671.4 285.2 L674.3 285.4 L677.1 285.5 L680.0 285.7 L682.9 285.9 L685.7 286.1 L688.6 286.2 L691.4 286.4 L694.3 286.6 L697.1 286.8 L700.0 287.0 L702.9 287.2 L705.7 287.4 L708.6 287.6 L711.4 287.8 L714.3 288.0 L717.1 288.2 L720.0 288.5 L722.9 288.7 L725.7 288.9 L728.6 289.1 L731.4 289.4 L734.3 289.6 L737.1 289.8 L740.0 290.1 L742.9 290.3 L745.7 290.5 L748.6 290.8 L751.4 291.0 L754.3 291.2 L757.1 291.5 L760.0 291.7 L762.9 291.9 L765.7 292.2 L768.6 292.4 L771.4 292.6 L774.3 292.8 L777.1 293.1 L780.0 293.3 L782.9 293.5 L785.7 293.8 L788.6 294.0 L791.4 294.2 L794.3 294.5 L797.1 294.7 L800.0 294.9 L802.9 295.2 L805.7 295.4 L808.6 295.6 L811.4 295.9 L814.3 296.1 L817.1 296.4 L820.0 296.6 L822.9 296.8 L825.7 297.1 L828.6 297.4 L831.4 297.6 L834.3 297.9 L837.1 298.1 L840.0 298.4 L842.9 298.7 L845.7 298.9 L848.6 299.2 L851.4 299.5 L854.3 299.7 L857.1 300.0 L860.0 300.3 L862.9 300.5 L865.7 300.8 L868.6 301.0 L871.4 301.3 L874.3 301.5 L877.1 301.8 L880.0 302.0 L882.9 302.2 L885.7 302.4 L888.6 302.7 L891.4 302.9 L894.3 303.1 L897.1 303.3 L900.0 303.5 L902.9 303.7 L905.7 303.9 L908.6 304.1 L911.4 304.3 L914.3 304.5 L917.1 304.7 L920.0 304.9 L922.9 305.0 L925.7 305.2 L928.6 305.4 L931.4 305.6 L934.3 305.8 L937.1 306.0 L940.0 306.2 L942.9 306.4 L945.7 306.6 L948.6 306.8 L951.4 307.0 L954.3 307.2 L957.1 307.4 L960.0 307.5 L962.9 307.7 L965.7 307.9 L968.6 308.1 L971.4 308.3 L974.3 308.5 L977.1 308.7 L980.0 308.9 L982.9 309.1 L985.7 309.3 L988.6 309.5 L991.4 309.7 L994.3 309.9 L997.1 310.1 L1000.0 310.3 L1002.9 310.5 L1005.7 310.7 L1008.6 311.0 L1011.4 311.2 L1014.3 311.4 L1017.1 311.7 L1020.0 311.9 L1022.9 312.2 L1025.7 312.4 L1028.6 312.7 L1031.4 312.9 L1034.3 313.2 L1037.1 313.4 L1040.0 313.7 L1042.9 313.9 L1045.7 314.2 L1048.6 314.4 L1051.4 314.6 L1054.3 314.9 L1057.1 315.1 L1060.0 315.3 L1062.9 315.5 L1065.9 315.7 L1068.9 315.9 L1071.9 316.2 L1075.0 316.4 L1078.1 316.6 L1081.3 316.8 L1084.4 317.0 L1087.5 317.2 L1090.6 317.4 L1093.7 317.6 L1096.7 317.8 L1099.6 318.0 L1102.5 318.1 L1105.4 318.3 L1108.1 318.5 L1110.7 318.7 L1113.2 318.9 L1115.6 319.1 L1117.9 319.2 L1120.0 319.4 L1123.3 319.7 L1126.3 319.9 L1129.2 320.1 L1131.8 320.3 L1134.2 320.5 L1136.4 320.8 L1138.5 321.2 L1141.1 321.9 L1143.3 322.6 L1145.4 323.5 L1147.5 324.4 L1149.6 325.3 L1151.4 326.5 L1153.2 328.7 L1154.6 331.1 L1155.8 333.6 L1156.7 336.2 L1157.3 338.3 L1157.7 340.5 L1158.1 342.7 L1158.4 345.1 L1158.6 347.5 L1158.8 350.1 L1159.0 352.7 L1159.2 355.5 L1159.4 358.5 L1159.6 361.6 L1159.7 364.0 L1159.9 366.5 L1160.0 369.2 L1160.1 371.9 L1160.2 374.6 L1160.3 377.4 L1160.4 380.1 L1160.5 382.9 L1160.6 385.6 L1160.7 388.4 L1160.7 391.1 L1160.8 394.0 L1160.9 396.9 L1160.9 400.0 L1160.9 402.5 L1161.0 405.1 L1161.0 407.7 L1161.0 410.5 L1161.0 413.2 L1161.0 416.0 L1161.0 418.8 L1161.0 421.7 L1161.0 424.5 L1161.0 427.2 L1161.0 430.0 L1161.0 1225.0 L1161.0 1217.0 L1179.0 1217.0" stroke="#808000"/>
</g>
<g class="tl">
<text x="274.0" y="1345" text-anchor="middle">0</text>
<text x="506.0" y="1345" text-anchor="middle">10</text>
<text x="738.0" y="1345" text-anchor="middle">20</text>
<text x="970.0" y="1345" text-anchor="middle">30</text>
<text x="1202.0" y="1345" text-anchor="middle">40</text>
<text x="1434.0" y="1345" text-anchor="middle">50</text>
<text x="1666.0" y="1345" text-anchor="middle">60</text>
<text x="1898.0" y="1345" text-anchor="middle">70</text>
<text x="235" y="1267.5" text-anchor="end">0</text>
<text x="235" y="1069.7" text-anchor="end">10</text>
<text x="235" y="871.8" text-anchor="end">20</text>
<text x="235" y="674.0" text-anchor="end">30</text>
<text x="235" y="476.2" text-anchor="end">40</text>
<text x="235" y="278.3" text-anchor="end">50</text>
<text x="235" y="80.5" text-anchor="end">60</text>
</g>
<g stroke-width="10" stroke-linecap="round">
<line x1="330" y1="805.0" x2="461" y2="805.0" stroke="#000000"/>
<line x1="330" y1="877.5" x2="461" y2="877.5" stroke="#FF8000"/>
<line x1="330" y1="950.0" x2="461" y2="950.0" stroke="#00FF00"/>
<line x1="330" y1="1022.5" x2="461" y2="1022.5" stroke="#008080"/>
<line x1="330" y1="1095.0" x2="461" y2="1095.0" stroke="#FF00FF"/>
<line x1="330" y1="1167.5" x2="461" y2="1167.5" stroke="#808000"/>
</g>
<g class="lg">
<text x="476" y="824.0">neat POM</text>
<text x="476" y="896.5">POM/TBOP-TFSI(100-0.25)</text>
<text x="476" y="969.0">POM/TBOP-TFSI(100-0.5)</text>
<text x="476" y="1041.5">POM/TBOP-TFSI(100-1)</text>
<text x="476" y="1114.0">POM/TBOP-TFSI(100-3)</text>
<text x="476" y="1186.5">POM/TBOP-TFSI(100-5)</text>
</g>
<text class="at" x="734" y="1477">Elongation<tspan class="cj" x="1166.2" y="1472.6">（</tspan><tspan x="1259" y="1477">%</tspan><tspan class="cj" x="1351" y="1472.6">）</tspan></text>
<text class="at" transform="translate(96.7,721.5) rotate(-90)" text-anchor="middle">Stress(MPa)</text>
</svg>
</body></html>
